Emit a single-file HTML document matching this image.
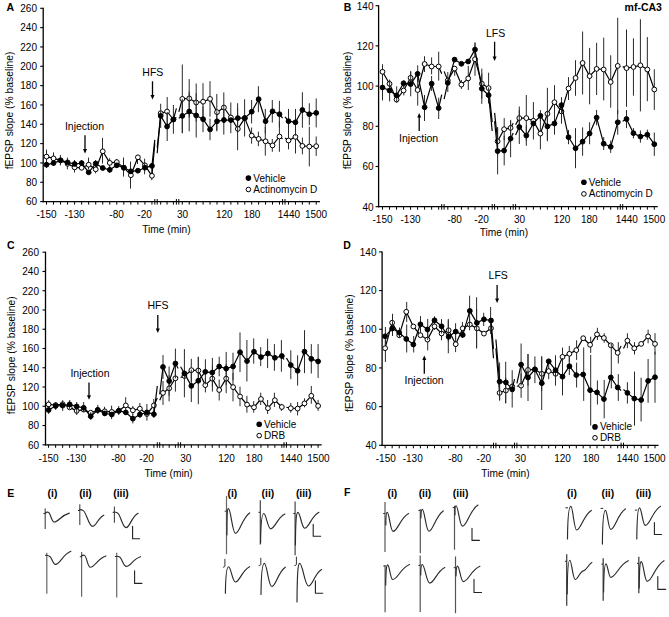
<!DOCTYPE html>
<html><head><meta charset="utf-8"><style>
html,body{margin:0;padding:0;background:#fff;overflow:hidden;}
svg{display:block;font-family:"Liberation Sans", sans-serif;}
text{fill:#000;}
</style></head><body>
<svg width="669" height="617" viewBox="0 0 669 617">
<rect width="669" height="617" fill="#fff"/>
<text x="6.5" y="10.6" font-size="10.5" text-anchor="start" font-weight="bold" >A</text>
<line x1="43.20" y1="7.80" x2="43.20" y2="202.20" stroke="#000" stroke-width="1.3"/>
<line x1="40.20" y1="201.60" x2="43.20" y2="201.60" stroke="#000" stroke-width="1.1"/>
<text x="37.0" y="205.4" font-size="10.0" text-anchor="end" font-weight="normal" >60</text>
<line x1="40.20" y1="182.27" x2="43.20" y2="182.27" stroke="#000" stroke-width="1.1"/>
<text x="37.0" y="186.1" font-size="10.0" text-anchor="end" font-weight="normal" >80</text>
<line x1="40.20" y1="162.94" x2="43.20" y2="162.94" stroke="#000" stroke-width="1.1"/>
<text x="37.0" y="166.7" font-size="10.0" text-anchor="end" font-weight="normal" >100</text>
<line x1="40.20" y1="143.61" x2="43.20" y2="143.61" stroke="#000" stroke-width="1.1"/>
<text x="37.0" y="147.4" font-size="10.0" text-anchor="end" font-weight="normal" >120</text>
<line x1="40.20" y1="124.28" x2="43.20" y2="124.28" stroke="#000" stroke-width="1.1"/>
<text x="37.0" y="128.1" font-size="10.0" text-anchor="end" font-weight="normal" >140</text>
<line x1="40.20" y1="104.95" x2="43.20" y2="104.95" stroke="#000" stroke-width="1.1"/>
<text x="37.0" y="108.7" font-size="10.0" text-anchor="end" font-weight="normal" >160</text>
<line x1="40.20" y1="85.62" x2="43.20" y2="85.62" stroke="#000" stroke-width="1.1"/>
<text x="37.0" y="89.4" font-size="10.0" text-anchor="end" font-weight="normal" >180</text>
<line x1="40.20" y1="66.29" x2="43.20" y2="66.29" stroke="#000" stroke-width="1.1"/>
<text x="37.0" y="70.1" font-size="10.0" text-anchor="end" font-weight="normal" >200</text>
<line x1="40.20" y1="46.96" x2="43.20" y2="46.96" stroke="#000" stroke-width="1.1"/>
<text x="37.0" y="50.8" font-size="10.0" text-anchor="end" font-weight="normal" >220</text>
<line x1="40.20" y1="27.63" x2="43.20" y2="27.63" stroke="#000" stroke-width="1.1"/>
<text x="37.0" y="31.4" font-size="10.0" text-anchor="end" font-weight="normal" >240</text>
<line x1="40.20" y1="8.30" x2="43.20" y2="8.30" stroke="#000" stroke-width="1.1"/>
<text x="37.0" y="12.1" font-size="10.0" text-anchor="end" font-weight="normal" >260</text>
<line x1="42.60" y1="201.60" x2="320.00" y2="201.60" stroke="#000" stroke-width="1.3"/>
<line x1="46.50" y1="201.60" x2="46.50" y2="204.60" stroke="#000" stroke-width="1.0"/>
<line x1="53.53" y1="201.60" x2="53.53" y2="204.60" stroke="#000" stroke-width="1.0"/>
<line x1="60.56" y1="201.60" x2="60.56" y2="204.60" stroke="#000" stroke-width="1.0"/>
<line x1="67.59" y1="201.60" x2="67.59" y2="204.60" stroke="#000" stroke-width="1.0"/>
<line x1="74.62" y1="201.60" x2="74.62" y2="204.60" stroke="#000" stroke-width="1.0"/>
<line x1="81.65" y1="201.60" x2="81.65" y2="204.60" stroke="#000" stroke-width="1.0"/>
<line x1="88.68" y1="201.60" x2="88.68" y2="204.60" stroke="#000" stroke-width="1.0"/>
<line x1="95.71" y1="201.60" x2="95.71" y2="204.60" stroke="#000" stroke-width="1.0"/>
<line x1="102.74" y1="201.60" x2="102.74" y2="204.60" stroke="#000" stroke-width="1.0"/>
<line x1="109.77" y1="201.60" x2="109.77" y2="204.60" stroke="#000" stroke-width="1.0"/>
<line x1="116.80" y1="201.60" x2="116.80" y2="204.60" stroke="#000" stroke-width="1.0"/>
<line x1="123.83" y1="201.60" x2="123.83" y2="204.60" stroke="#000" stroke-width="1.0"/>
<line x1="130.86" y1="201.60" x2="130.86" y2="204.60" stroke="#000" stroke-width="1.0"/>
<line x1="137.89" y1="201.60" x2="137.89" y2="204.60" stroke="#000" stroke-width="1.0"/>
<line x1="144.92" y1="201.60" x2="144.92" y2="204.60" stroke="#000" stroke-width="1.0"/>
<line x1="151.95" y1="201.60" x2="151.95" y2="204.60" stroke="#000" stroke-width="1.0"/>
<line x1="160.70" y1="201.60" x2="160.70" y2="204.60" stroke="#000" stroke-width="1.0"/>
<line x1="167.05" y1="201.60" x2="167.05" y2="204.60" stroke="#000" stroke-width="1.0"/>
<line x1="173.40" y1="201.60" x2="173.40" y2="204.60" stroke="#000" stroke-width="1.0"/>
<line x1="182.30" y1="201.60" x2="182.30" y2="204.60" stroke="#000" stroke-width="1.0"/>
<line x1="189.24" y1="201.60" x2="189.24" y2="204.60" stroke="#000" stroke-width="1.0"/>
<line x1="196.18" y1="201.60" x2="196.18" y2="204.60" stroke="#000" stroke-width="1.0"/>
<line x1="203.12" y1="201.60" x2="203.12" y2="204.60" stroke="#000" stroke-width="1.0"/>
<line x1="210.06" y1="201.60" x2="210.06" y2="204.60" stroke="#000" stroke-width="1.0"/>
<line x1="217.00" y1="201.60" x2="217.00" y2="204.60" stroke="#000" stroke-width="1.0"/>
<line x1="223.94" y1="201.60" x2="223.94" y2="204.60" stroke="#000" stroke-width="1.0"/>
<line x1="230.88" y1="201.60" x2="230.88" y2="204.60" stroke="#000" stroke-width="1.0"/>
<line x1="237.82" y1="201.60" x2="237.82" y2="204.60" stroke="#000" stroke-width="1.0"/>
<line x1="244.76" y1="201.60" x2="244.76" y2="204.60" stroke="#000" stroke-width="1.0"/>
<line x1="251.70" y1="201.60" x2="251.70" y2="204.60" stroke="#000" stroke-width="1.0"/>
<line x1="258.64" y1="201.60" x2="258.64" y2="204.60" stroke="#000" stroke-width="1.0"/>
<line x1="265.58" y1="201.60" x2="265.58" y2="204.60" stroke="#000" stroke-width="1.0"/>
<line x1="272.52" y1="201.60" x2="272.52" y2="204.60" stroke="#000" stroke-width="1.0"/>
<line x1="279.46" y1="201.60" x2="279.46" y2="204.60" stroke="#000" stroke-width="1.0"/>
<line x1="288.50" y1="201.60" x2="288.50" y2="204.60" stroke="#000" stroke-width="1.0"/>
<line x1="295.43" y1="201.60" x2="295.43" y2="204.60" stroke="#000" stroke-width="1.0"/>
<line x1="302.36" y1="201.60" x2="302.36" y2="204.60" stroke="#000" stroke-width="1.0"/>
<line x1="309.29" y1="201.60" x2="309.29" y2="204.60" stroke="#000" stroke-width="1.0"/>
<line x1="316.22" y1="201.60" x2="316.22" y2="204.60" stroke="#000" stroke-width="1.0"/>
<line x1="154.80" y1="199.00" x2="154.80" y2="204.60" stroke="#000" stroke-width="1.0"/>
<line x1="157.20" y1="199.00" x2="157.20" y2="204.60" stroke="#000" stroke-width="1.0"/>
<line x1="176.40" y1="199.00" x2="176.40" y2="204.60" stroke="#000" stroke-width="1.0"/>
<line x1="178.80" y1="199.00" x2="178.80" y2="204.60" stroke="#000" stroke-width="1.0"/>
<line x1="282.60" y1="199.00" x2="282.60" y2="204.60" stroke="#000" stroke-width="1.0"/>
<line x1="285.00" y1="199.00" x2="285.00" y2="204.60" stroke="#000" stroke-width="1.0"/>
<text x="46.5" y="218.2" font-size="10.0" text-anchor="middle" font-weight="normal" >-150</text>
<text x="74.6" y="218.2" font-size="10.0" text-anchor="middle" font-weight="normal" >-130</text>
<text x="116.6" y="218.2" font-size="10.0" text-anchor="middle" font-weight="normal" >-80</text>
<text x="144.6" y="218.2" font-size="10.0" text-anchor="middle" font-weight="normal" >-20</text>
<text x="182.5" y="218.2" font-size="10.0" text-anchor="middle" font-weight="normal" >30</text>
<text x="224.3" y="218.2" font-size="10.0" text-anchor="middle" font-weight="normal" >120</text>
<text x="252.0" y="218.2" font-size="10.0" text-anchor="middle" font-weight="normal" >180</text>
<text x="288.9" y="218.2" font-size="10.0" text-anchor="middle" font-weight="normal" >1440</text>
<text x="316.0" y="218.2" font-size="10.0" text-anchor="middle" font-weight="normal" >1500</text>
<text x="0" y="0" font-size="10.3" text-anchor="middle" transform="translate(13.1,110.5) rotate(-90)">fEPSP slope (% baseline)</text>
<line x1="46.50" y1="149.60" x2="46.50" y2="163.60" stroke="#2a2a2a" stroke-width="1.0"/>
<line x1="53.50" y1="152.40" x2="53.50" y2="166.00" stroke="#2a2a2a" stroke-width="1.0"/>
<line x1="67.40" y1="157.60" x2="67.40" y2="169.30" stroke="#2a2a2a" stroke-width="1.0"/>
<line x1="74.50" y1="160.00" x2="74.50" y2="172.50" stroke="#2a2a2a" stroke-width="1.0"/>
<line x1="88.50" y1="157.60" x2="88.50" y2="169.00" stroke="#2a2a2a" stroke-width="1.0"/>
<line x1="95.60" y1="165.20" x2="95.60" y2="173.40" stroke="#2a2a2a" stroke-width="1.0"/>
<line x1="102.50" y1="138.00" x2="102.50" y2="163.50" stroke="#2a2a2a" stroke-width="1.0"/>
<line x1="109.60" y1="158.20" x2="109.60" y2="167.60" stroke="#2a2a2a" stroke-width="1.0"/>
<line x1="116.50" y1="159.00" x2="116.50" y2="168.00" stroke="#2a2a2a" stroke-width="1.0"/>
<line x1="130.50" y1="161.70" x2="130.50" y2="188.60" stroke="#2a2a2a" stroke-width="1.0"/>
<line x1="137.50" y1="155.00" x2="137.50" y2="164.00" stroke="#2a2a2a" stroke-width="1.0"/>
<line x1="151.80" y1="163.50" x2="151.80" y2="180.20" stroke="#2a2a2a" stroke-width="1.0"/>
<line x1="167.20" y1="97.00" x2="167.20" y2="126.00" stroke="#2a2a2a" stroke-width="1.0"/>
<line x1="182.30" y1="64.50" x2="182.30" y2="133.30" stroke="#2a2a2a" stroke-width="1.0"/>
<line x1="189.20" y1="79.10" x2="189.20" y2="117.70" stroke="#2a2a2a" stroke-width="1.0"/>
<line x1="196.20" y1="83.50" x2="196.20" y2="121.50" stroke="#2a2a2a" stroke-width="1.0"/>
<line x1="203.00" y1="83.20" x2="203.00" y2="120.20" stroke="#2a2a2a" stroke-width="1.0"/>
<line x1="210.00" y1="81.10" x2="210.00" y2="116.70" stroke="#2a2a2a" stroke-width="1.0"/>
<line x1="216.80" y1="94.00" x2="216.80" y2="130.40" stroke="#2a2a2a" stroke-width="1.0"/>
<line x1="223.80" y1="92.40" x2="223.80" y2="122.60" stroke="#2a2a2a" stroke-width="1.0"/>
<line x1="230.80" y1="102.40" x2="230.80" y2="133.20" stroke="#2a2a2a" stroke-width="1.0"/>
<line x1="237.60" y1="107.60" x2="237.60" y2="150.20" stroke="#2a2a2a" stroke-width="1.0"/>
<line x1="251.60" y1="127.50" x2="251.60" y2="143.70" stroke="#2a2a2a" stroke-width="1.0"/>
<line x1="258.40" y1="131.60" x2="258.40" y2="146.20" stroke="#2a2a2a" stroke-width="1.0"/>
<line x1="265.30" y1="127.00" x2="265.30" y2="155.60" stroke="#2a2a2a" stroke-width="1.0"/>
<line x1="272.30" y1="139.00" x2="272.30" y2="151.80" stroke="#2a2a2a" stroke-width="1.0"/>
<line x1="279.40" y1="121.20" x2="279.40" y2="151.80" stroke="#2a2a2a" stroke-width="1.0"/>
<line x1="288.50" y1="131.60" x2="288.50" y2="149.40" stroke="#2a2a2a" stroke-width="1.0"/>
<line x1="295.50" y1="120.30" x2="295.50" y2="153.50" stroke="#2a2a2a" stroke-width="1.0"/>
<line x1="302.40" y1="137.50" x2="302.40" y2="154.30" stroke="#2a2a2a" stroke-width="1.0"/>
<line x1="309.30" y1="126.60" x2="309.30" y2="166.40" stroke="#2a2a2a" stroke-width="1.0"/>
<line x1="316.20" y1="136.50" x2="316.20" y2="155.90" stroke="#2a2a2a" stroke-width="1.0"/>
<path d="M46.50,156.60 L53.53,158.40 L60.56,160.40 L67.59,163.80 L74.62,167.40 L81.65,167.80 L88.68,164.70 L95.71,169.30 L102.74,151.30 L109.77,162.90 L116.80,162.10 L123.83,167.70 L130.86,175.20 L137.89,157.30 L144.92,165.30 L151.95,175.80 L154.80,143.18 M157.20,153.26 L160.70,113.20 L167.05,111.50 L173.40,119.50 L176.40,108.39 M178.80,111.86 L182.30,98.90 L189.24,98.40 L196.18,102.50 L203.12,101.70 L210.06,98.90 L217.00,112.20 L223.94,107.50 L230.88,117.50 L237.82,128.90 L244.76,118.10 L251.70,135.60 L258.64,138.90 L265.58,141.30 L272.52,145.40 L279.46,136.50 L282.60,138.72 M285.00,138.02 L288.50,140.50 L295.43,136.90 L302.36,145.90 L309.29,146.50 L316.22,146.20" fill="none" stroke="#000" stroke-width="1.2" stroke-linejoin="round"/>
<circle cx="46.50" cy="156.60" r="2.4" fill="#fff" stroke="#000" stroke-width="1"/>
<circle cx="53.53" cy="158.40" r="2.4" fill="#fff" stroke="#000" stroke-width="1"/>
<circle cx="60.56" cy="160.40" r="2.4" fill="#fff" stroke="#000" stroke-width="1"/>
<circle cx="67.59" cy="163.80" r="2.4" fill="#fff" stroke="#000" stroke-width="1"/>
<circle cx="74.62" cy="167.40" r="2.4" fill="#fff" stroke="#000" stroke-width="1"/>
<circle cx="81.65" cy="167.80" r="2.4" fill="#fff" stroke="#000" stroke-width="1"/>
<circle cx="88.68" cy="164.70" r="2.4" fill="#fff" stroke="#000" stroke-width="1"/>
<circle cx="95.71" cy="169.30" r="2.4" fill="#fff" stroke="#000" stroke-width="1"/>
<circle cx="102.74" cy="151.30" r="2.4" fill="#fff" stroke="#000" stroke-width="1"/>
<circle cx="109.77" cy="162.90" r="2.4" fill="#fff" stroke="#000" stroke-width="1"/>
<circle cx="116.80" cy="162.10" r="2.4" fill="#fff" stroke="#000" stroke-width="1"/>
<circle cx="123.83" cy="167.70" r="2.4" fill="#fff" stroke="#000" stroke-width="1"/>
<circle cx="130.86" cy="175.20" r="2.4" fill="#fff" stroke="#000" stroke-width="1"/>
<circle cx="137.89" cy="157.30" r="2.4" fill="#fff" stroke="#000" stroke-width="1"/>
<circle cx="144.92" cy="165.30" r="2.4" fill="#fff" stroke="#000" stroke-width="1"/>
<circle cx="151.95" cy="175.80" r="2.4" fill="#fff" stroke="#000" stroke-width="1"/>
<circle cx="160.70" cy="113.20" r="2.4" fill="#fff" stroke="#000" stroke-width="1"/>
<circle cx="167.05" cy="111.50" r="2.4" fill="#fff" stroke="#000" stroke-width="1"/>
<circle cx="173.40" cy="119.50" r="2.4" fill="#fff" stroke="#000" stroke-width="1"/>
<circle cx="182.30" cy="98.90" r="2.4" fill="#fff" stroke="#000" stroke-width="1"/>
<circle cx="189.24" cy="98.40" r="2.4" fill="#fff" stroke="#000" stroke-width="1"/>
<circle cx="196.18" cy="102.50" r="2.4" fill="#fff" stroke="#000" stroke-width="1"/>
<circle cx="203.12" cy="101.70" r="2.4" fill="#fff" stroke="#000" stroke-width="1"/>
<circle cx="210.06" cy="98.90" r="2.4" fill="#fff" stroke="#000" stroke-width="1"/>
<circle cx="217.00" cy="112.20" r="2.4" fill="#fff" stroke="#000" stroke-width="1"/>
<circle cx="223.94" cy="107.50" r="2.4" fill="#fff" stroke="#000" stroke-width="1"/>
<circle cx="230.88" cy="117.50" r="2.4" fill="#fff" stroke="#000" stroke-width="1"/>
<circle cx="237.82" cy="128.90" r="2.4" fill="#fff" stroke="#000" stroke-width="1"/>
<circle cx="244.76" cy="118.10" r="2.4" fill="#fff" stroke="#000" stroke-width="1"/>
<circle cx="251.70" cy="135.60" r="2.4" fill="#fff" stroke="#000" stroke-width="1"/>
<circle cx="258.64" cy="138.90" r="2.4" fill="#fff" stroke="#000" stroke-width="1"/>
<circle cx="265.58" cy="141.30" r="2.4" fill="#fff" stroke="#000" stroke-width="1"/>
<circle cx="272.52" cy="145.40" r="2.4" fill="#fff" stroke="#000" stroke-width="1"/>
<circle cx="279.46" cy="136.50" r="2.4" fill="#fff" stroke="#000" stroke-width="1"/>
<circle cx="288.50" cy="140.50" r="2.4" fill="#fff" stroke="#000" stroke-width="1"/>
<circle cx="295.43" cy="136.90" r="2.4" fill="#fff" stroke="#000" stroke-width="1"/>
<circle cx="302.36" cy="145.90" r="2.4" fill="#fff" stroke="#000" stroke-width="1"/>
<circle cx="309.29" cy="146.50" r="2.4" fill="#fff" stroke="#000" stroke-width="1"/>
<circle cx="316.22" cy="146.20" r="2.4" fill="#fff" stroke="#000" stroke-width="1"/>
<line x1="46.50" y1="161.40" x2="46.50" y2="168.00" stroke="#2a2a2a" stroke-width="1.0"/>
<line x1="60.40" y1="155.00" x2="60.40" y2="165.40" stroke="#2a2a2a" stroke-width="1.0"/>
<line x1="81.50" y1="160.00" x2="81.50" y2="166.00" stroke="#2a2a2a" stroke-width="1.0"/>
<line x1="95.60" y1="160.00" x2="95.60" y2="167.00" stroke="#2a2a2a" stroke-width="1.0"/>
<line x1="109.60" y1="166.80" x2="109.60" y2="172.80" stroke="#2a2a2a" stroke-width="1.0"/>
<line x1="123.50" y1="157.50" x2="123.50" y2="176.60" stroke="#2a2a2a" stroke-width="1.0"/>
<line x1="144.60" y1="158.70" x2="144.60" y2="174.30" stroke="#2a2a2a" stroke-width="1.0"/>
<line x1="160.70" y1="103.80" x2="160.70" y2="128.00" stroke="#2a2a2a" stroke-width="1.0"/>
<line x1="167.20" y1="112.00" x2="167.20" y2="141.00" stroke="#2a2a2a" stroke-width="1.0"/>
<line x1="173.40" y1="105.00" x2="173.40" y2="133.70" stroke="#2a2a2a" stroke-width="1.0"/>
<line x1="182.30" y1="98.80" x2="182.30" y2="133.00" stroke="#2a2a2a" stroke-width="1.0"/>
<line x1="189.20" y1="91.70" x2="189.20" y2="131.30" stroke="#2a2a2a" stroke-width="1.0"/>
<line x1="196.20" y1="93.30" x2="196.20" y2="137.50" stroke="#2a2a2a" stroke-width="1.0"/>
<line x1="203.00" y1="106.30" x2="203.00" y2="132.10" stroke="#2a2a2a" stroke-width="1.0"/>
<line x1="210.00" y1="118.60" x2="210.00" y2="140.20" stroke="#2a2a2a" stroke-width="1.0"/>
<line x1="216.80" y1="111.30" x2="216.80" y2="131.30" stroke="#2a2a2a" stroke-width="1.0"/>
<line x1="223.80" y1="105.40" x2="223.80" y2="134.60" stroke="#2a2a2a" stroke-width="1.0"/>
<line x1="237.60" y1="103.20" x2="237.60" y2="133.00" stroke="#2a2a2a" stroke-width="1.0"/>
<line x1="244.60" y1="99.20" x2="244.60" y2="136.50" stroke="#2a2a2a" stroke-width="1.0"/>
<line x1="251.60" y1="100.00" x2="251.60" y2="123.40" stroke="#2a2a2a" stroke-width="1.0"/>
<line x1="258.40" y1="86.20" x2="258.40" y2="112.20" stroke="#2a2a2a" stroke-width="1.0"/>
<line x1="265.30" y1="108.90" x2="265.30" y2="133.50" stroke="#2a2a2a" stroke-width="1.0"/>
<line x1="272.30" y1="100.00" x2="272.30" y2="122.60" stroke="#2a2a2a" stroke-width="1.0"/>
<line x1="279.40" y1="100.80" x2="279.40" y2="127.60" stroke="#2a2a2a" stroke-width="1.0"/>
<line x1="288.50" y1="108.90" x2="288.50" y2="133.50" stroke="#2a2a2a" stroke-width="1.0"/>
<line x1="295.50" y1="108.90" x2="295.50" y2="135.70" stroke="#2a2a2a" stroke-width="1.0"/>
<line x1="302.40" y1="92.20" x2="302.40" y2="127.80" stroke="#2a2a2a" stroke-width="1.0"/>
<line x1="309.30" y1="103.20" x2="309.30" y2="125.20" stroke="#2a2a2a" stroke-width="1.0"/>
<line x1="316.20" y1="98.40" x2="316.20" y2="127.40" stroke="#2a2a2a" stroke-width="1.0"/>
<path d="M46.50,164.70 L53.53,163.10 L60.56,160.40 L67.59,162.40 L74.62,164.00 L81.65,163.10 L88.68,172.30 L95.71,163.50 L102.74,168.00 L109.77,169.80 L116.80,165.30 L123.83,167.70 L130.86,171.30 L137.89,170.70 L144.92,167.70 L151.95,165.90 L154.80,139.84 M157.20,147.90 L160.70,115.90 L167.05,126.50 L173.40,119.50 L176.40,117.56 M178.80,118.17 L182.30,115.90 L189.24,111.50 L196.18,115.40 L203.12,119.20 L210.06,129.40 L217.00,121.30 L223.94,120.00 L230.88,120.10 L237.82,118.10 L244.76,118.10 L251.70,111.70 L258.64,99.20 L265.58,121.20 L272.52,111.30 L279.46,114.20 L282.60,118.09 M285.00,116.86 L288.50,121.20 L295.43,122.30 L302.36,110.00 L309.29,114.20 L316.22,112.90" fill="none" stroke="#000" stroke-width="1.2" stroke-linejoin="round"/>
<circle cx="46.50" cy="164.70" r="2.4" fill="#000" stroke="#000" stroke-width="1"/>
<circle cx="53.53" cy="163.10" r="2.4" fill="#000" stroke="#000" stroke-width="1"/>
<circle cx="60.56" cy="160.40" r="2.4" fill="#000" stroke="#000" stroke-width="1"/>
<circle cx="67.59" cy="162.40" r="2.4" fill="#000" stroke="#000" stroke-width="1"/>
<circle cx="74.62" cy="164.00" r="2.4" fill="#000" stroke="#000" stroke-width="1"/>
<circle cx="81.65" cy="163.10" r="2.4" fill="#000" stroke="#000" stroke-width="1"/>
<circle cx="88.68" cy="172.30" r="2.4" fill="#000" stroke="#000" stroke-width="1"/>
<circle cx="95.71" cy="163.50" r="2.4" fill="#000" stroke="#000" stroke-width="1"/>
<circle cx="102.74" cy="168.00" r="2.4" fill="#000" stroke="#000" stroke-width="1"/>
<circle cx="109.77" cy="169.80" r="2.4" fill="#000" stroke="#000" stroke-width="1"/>
<circle cx="116.80" cy="165.30" r="2.4" fill="#000" stroke="#000" stroke-width="1"/>
<circle cx="123.83" cy="167.70" r="2.4" fill="#000" stroke="#000" stroke-width="1"/>
<circle cx="130.86" cy="171.30" r="2.4" fill="#000" stroke="#000" stroke-width="1"/>
<circle cx="137.89" cy="170.70" r="2.4" fill="#000" stroke="#000" stroke-width="1"/>
<circle cx="144.92" cy="167.70" r="2.4" fill="#000" stroke="#000" stroke-width="1"/>
<circle cx="151.95" cy="165.90" r="2.4" fill="#000" stroke="#000" stroke-width="1"/>
<circle cx="160.70" cy="115.90" r="2.4" fill="#000" stroke="#000" stroke-width="1"/>
<circle cx="167.05" cy="126.50" r="2.4" fill="#000" stroke="#000" stroke-width="1"/>
<circle cx="173.40" cy="119.50" r="2.4" fill="#000" stroke="#000" stroke-width="1"/>
<circle cx="182.30" cy="115.90" r="2.4" fill="#000" stroke="#000" stroke-width="1"/>
<circle cx="189.24" cy="111.50" r="2.4" fill="#000" stroke="#000" stroke-width="1"/>
<circle cx="196.18" cy="115.40" r="2.4" fill="#000" stroke="#000" stroke-width="1"/>
<circle cx="203.12" cy="119.20" r="2.4" fill="#000" stroke="#000" stroke-width="1"/>
<circle cx="210.06" cy="129.40" r="2.4" fill="#000" stroke="#000" stroke-width="1"/>
<circle cx="217.00" cy="121.30" r="2.4" fill="#000" stroke="#000" stroke-width="1"/>
<circle cx="223.94" cy="120.00" r="2.4" fill="#000" stroke="#000" stroke-width="1"/>
<circle cx="230.88" cy="120.10" r="2.4" fill="#000" stroke="#000" stroke-width="1"/>
<circle cx="237.82" cy="118.10" r="2.4" fill="#000" stroke="#000" stroke-width="1"/>
<circle cx="244.76" cy="118.10" r="2.4" fill="#000" stroke="#000" stroke-width="1"/>
<circle cx="251.70" cy="111.70" r="2.4" fill="#000" stroke="#000" stroke-width="1"/>
<circle cx="258.64" cy="99.20" r="2.4" fill="#000" stroke="#000" stroke-width="1"/>
<circle cx="265.58" cy="121.20" r="2.4" fill="#000" stroke="#000" stroke-width="1"/>
<circle cx="272.52" cy="111.30" r="2.4" fill="#000" stroke="#000" stroke-width="1"/>
<circle cx="279.46" cy="114.20" r="2.4" fill="#000" stroke="#000" stroke-width="1"/>
<circle cx="288.50" cy="121.20" r="2.4" fill="#000" stroke="#000" stroke-width="1"/>
<circle cx="295.43" cy="122.30" r="2.4" fill="#000" stroke="#000" stroke-width="1"/>
<circle cx="302.36" cy="110.00" r="2.4" fill="#000" stroke="#000" stroke-width="1"/>
<circle cx="309.29" cy="114.20" r="2.4" fill="#000" stroke="#000" stroke-width="1"/>
<circle cx="316.22" cy="112.90" r="2.4" fill="#000" stroke="#000" stroke-width="1"/>
<text x="142.3" y="76.3" font-size="10.5" text-anchor="start" font-weight="normal" >HFS</text>
<line x1="152.50" y1="81.30" x2="152.50" y2="95.50" stroke="#000" stroke-width="1.3"/>
<path d="M150.50,95.00 L154.50,95.00 L152.50,99.50 Z" fill="#000"/>
<text x="64.9" y="129.7" font-size="10.5" text-anchor="start" font-weight="normal" >Injection</text>
<line x1="85.00" y1="135.30" x2="85.00" y2="149.50" stroke="#000" stroke-width="1.3"/>
<path d="M83.00,149.00 L87.00,149.00 L85.00,153.50 Z" fill="#000"/>
<circle cx="248.4" cy="178.1" r="2.8" fill="#000"/>
<text x="253.3" y="181.6" font-size="10.0" text-anchor="start" font-weight="normal" >Vehicle</text>
<circle cx="248.4" cy="189.5" r="2.3" fill="#fff" stroke="#000" stroke-width="1"/>
<text x="253.3" y="193.0" font-size="10.0" text-anchor="start" font-weight="normal" >Actinomycin D</text>
<text x="166.4" y="232.6" font-size="10.2" text-anchor="middle" font-weight="normal" >Time (min)</text>
<text x="343.8" y="10.6" font-size="10.5" text-anchor="start" font-weight="bold" >B</text>
<line x1="378.60" y1="5.20" x2="378.60" y2="207.30" stroke="#000" stroke-width="1.3"/>
<line x1="375.60" y1="206.70" x2="378.60" y2="206.70" stroke="#000" stroke-width="1.1"/>
<text x="373.5" y="210.5" font-size="10.0" text-anchor="end" font-weight="normal" >40</text>
<line x1="375.60" y1="166.50" x2="378.60" y2="166.50" stroke="#000" stroke-width="1.1"/>
<text x="373.5" y="170.3" font-size="10.0" text-anchor="end" font-weight="normal" >60</text>
<line x1="375.60" y1="126.30" x2="378.60" y2="126.30" stroke="#000" stroke-width="1.1"/>
<text x="373.5" y="130.1" font-size="10.0" text-anchor="end" font-weight="normal" >80</text>
<line x1="375.60" y1="86.10" x2="378.60" y2="86.10" stroke="#000" stroke-width="1.1"/>
<text x="373.5" y="89.9" font-size="10.0" text-anchor="end" font-weight="normal" >100</text>
<line x1="375.60" y1="45.90" x2="378.60" y2="45.90" stroke="#000" stroke-width="1.1"/>
<text x="373.5" y="49.7" font-size="10.0" text-anchor="end" font-weight="normal" >120</text>
<line x1="375.60" y1="5.70" x2="378.60" y2="5.70" stroke="#000" stroke-width="1.1"/>
<text x="373.5" y="9.5" font-size="10.0" text-anchor="end" font-weight="normal" >140</text>
<line x1="378.00" y1="206.70" x2="657.70" y2="206.70" stroke="#000" stroke-width="1.3"/>
<line x1="382.50" y1="206.70" x2="382.50" y2="209.70" stroke="#000" stroke-width="1.0"/>
<line x1="389.52" y1="206.70" x2="389.52" y2="209.70" stroke="#000" stroke-width="1.0"/>
<line x1="396.54" y1="206.70" x2="396.54" y2="209.70" stroke="#000" stroke-width="1.0"/>
<line x1="403.56" y1="206.70" x2="403.56" y2="209.70" stroke="#000" stroke-width="1.0"/>
<line x1="410.58" y1="206.70" x2="410.58" y2="209.70" stroke="#000" stroke-width="1.0"/>
<line x1="417.60" y1="206.70" x2="417.60" y2="209.70" stroke="#000" stroke-width="1.0"/>
<line x1="424.62" y1="206.70" x2="424.62" y2="209.70" stroke="#000" stroke-width="1.0"/>
<line x1="431.64" y1="206.70" x2="431.64" y2="209.70" stroke="#000" stroke-width="1.0"/>
<line x1="438.66" y1="206.70" x2="438.66" y2="209.70" stroke="#000" stroke-width="1.0"/>
<line x1="447.80" y1="206.70" x2="447.80" y2="209.70" stroke="#000" stroke-width="1.0"/>
<line x1="454.60" y1="206.70" x2="454.60" y2="209.70" stroke="#000" stroke-width="1.0"/>
<line x1="461.40" y1="206.70" x2="461.40" y2="209.70" stroke="#000" stroke-width="1.0"/>
<line x1="468.20" y1="206.70" x2="468.20" y2="209.70" stroke="#000" stroke-width="1.0"/>
<line x1="475.00" y1="206.70" x2="475.00" y2="209.70" stroke="#000" stroke-width="1.0"/>
<line x1="481.80" y1="206.70" x2="481.80" y2="209.70" stroke="#000" stroke-width="1.0"/>
<line x1="488.60" y1="206.70" x2="488.60" y2="209.70" stroke="#000" stroke-width="1.0"/>
<line x1="497.60" y1="206.70" x2="497.60" y2="209.70" stroke="#000" stroke-width="1.0"/>
<line x1="504.10" y1="206.70" x2="504.10" y2="209.70" stroke="#000" stroke-width="1.0"/>
<line x1="510.60" y1="206.70" x2="510.60" y2="209.70" stroke="#000" stroke-width="1.0"/>
<line x1="519.30" y1="206.70" x2="519.30" y2="209.70" stroke="#000" stroke-width="1.0"/>
<line x1="526.33" y1="206.70" x2="526.33" y2="209.70" stroke="#000" stroke-width="1.0"/>
<line x1="533.36" y1="206.70" x2="533.36" y2="209.70" stroke="#000" stroke-width="1.0"/>
<line x1="540.39" y1="206.70" x2="540.39" y2="209.70" stroke="#000" stroke-width="1.0"/>
<line x1="547.42" y1="206.70" x2="547.42" y2="209.70" stroke="#000" stroke-width="1.0"/>
<line x1="554.45" y1="206.70" x2="554.45" y2="209.70" stroke="#000" stroke-width="1.0"/>
<line x1="561.48" y1="206.70" x2="561.48" y2="209.70" stroke="#000" stroke-width="1.0"/>
<line x1="568.51" y1="206.70" x2="568.51" y2="209.70" stroke="#000" stroke-width="1.0"/>
<line x1="575.54" y1="206.70" x2="575.54" y2="209.70" stroke="#000" stroke-width="1.0"/>
<line x1="582.57" y1="206.70" x2="582.57" y2="209.70" stroke="#000" stroke-width="1.0"/>
<line x1="589.60" y1="206.70" x2="589.60" y2="209.70" stroke="#000" stroke-width="1.0"/>
<line x1="596.63" y1="206.70" x2="596.63" y2="209.70" stroke="#000" stroke-width="1.0"/>
<line x1="603.66" y1="206.70" x2="603.66" y2="209.70" stroke="#000" stroke-width="1.0"/>
<line x1="610.69" y1="206.70" x2="610.69" y2="209.70" stroke="#000" stroke-width="1.0"/>
<line x1="617.72" y1="206.70" x2="617.72" y2="209.70" stroke="#000" stroke-width="1.0"/>
<line x1="626.50" y1="206.70" x2="626.50" y2="209.70" stroke="#000" stroke-width="1.0"/>
<line x1="633.45" y1="206.70" x2="633.45" y2="209.70" stroke="#000" stroke-width="1.0"/>
<line x1="640.40" y1="206.70" x2="640.40" y2="209.70" stroke="#000" stroke-width="1.0"/>
<line x1="647.35" y1="206.70" x2="647.35" y2="209.70" stroke="#000" stroke-width="1.0"/>
<line x1="654.30" y1="206.70" x2="654.30" y2="209.70" stroke="#000" stroke-width="1.0"/>
<line x1="441.70" y1="204.10" x2="441.70" y2="209.70" stroke="#000" stroke-width="1.0"/>
<line x1="444.10" y1="204.10" x2="444.10" y2="209.70" stroke="#000" stroke-width="1.0"/>
<line x1="492.20" y1="204.10" x2="492.20" y2="209.70" stroke="#000" stroke-width="1.0"/>
<line x1="494.60" y1="204.10" x2="494.60" y2="209.70" stroke="#000" stroke-width="1.0"/>
<line x1="513.20" y1="204.10" x2="513.20" y2="209.70" stroke="#000" stroke-width="1.0"/>
<line x1="515.60" y1="204.10" x2="515.60" y2="209.70" stroke="#000" stroke-width="1.0"/>
<line x1="620.30" y1="204.10" x2="620.30" y2="209.70" stroke="#000" stroke-width="1.0"/>
<line x1="622.70" y1="204.10" x2="622.70" y2="209.70" stroke="#000" stroke-width="1.0"/>
<text x="382.5" y="222.9" font-size="10.0" text-anchor="middle" font-weight="normal" >-150</text>
<text x="410.5" y="222.9" font-size="10.0" text-anchor="middle" font-weight="normal" >-130</text>
<text x="454.7" y="222.9" font-size="10.0" text-anchor="middle" font-weight="normal" >-80</text>
<text x="481.6" y="222.9" font-size="10.0" text-anchor="middle" font-weight="normal" >-20</text>
<text x="519.6" y="222.9" font-size="10.0" text-anchor="middle" font-weight="normal" >30</text>
<text x="562.0" y="222.9" font-size="10.0" text-anchor="middle" font-weight="normal" >120</text>
<text x="589.3" y="222.9" font-size="10.0" text-anchor="middle" font-weight="normal" >180</text>
<text x="626.8" y="222.9" font-size="10.0" text-anchor="middle" font-weight="normal" >1440</text>
<text x="654.1" y="222.9" font-size="10.0" text-anchor="middle" font-weight="normal" >1500</text>
<text x="0" y="0" font-size="10.3" text-anchor="middle" transform="translate(351.0,110.5) rotate(-90)">fEPSP slope (% baseline)</text>
<line x1="382.50" y1="64.20" x2="382.50" y2="79.40" stroke="#2a2a2a" stroke-width="1.0"/>
<line x1="389.60" y1="80.10" x2="389.60" y2="87.50" stroke="#2a2a2a" stroke-width="1.0"/>
<line x1="403.80" y1="85.60" x2="403.80" y2="95.40" stroke="#2a2a2a" stroke-width="1.0"/>
<line x1="410.70" y1="71.00" x2="410.70" y2="84.60" stroke="#2a2a2a" stroke-width="1.0"/>
<line x1="417.70" y1="74.40" x2="417.70" y2="105.60" stroke="#2a2a2a" stroke-width="1.0"/>
<line x1="424.50" y1="56.20" x2="424.50" y2="72.00" stroke="#2a2a2a" stroke-width="1.0"/>
<line x1="431.60" y1="57.40" x2="431.60" y2="74.40" stroke="#2a2a2a" stroke-width="1.0"/>
<line x1="438.70" y1="51.70" x2="438.70" y2="80.60" stroke="#2a2a2a" stroke-width="1.0"/>
<line x1="454.70" y1="66.70" x2="454.70" y2="75.80" stroke="#2a2a2a" stroke-width="1.0"/>
<line x1="461.40" y1="80.00" x2="461.40" y2="89.00" stroke="#2a2a2a" stroke-width="1.0"/>
<line x1="468.30" y1="66.00" x2="468.30" y2="90.00" stroke="#2a2a2a" stroke-width="1.0"/>
<line x1="475.00" y1="42.60" x2="475.00" y2="75.80" stroke="#2a2a2a" stroke-width="1.0"/>
<line x1="481.80" y1="68.60" x2="481.80" y2="98.60" stroke="#2a2a2a" stroke-width="1.0"/>
<line x1="488.60" y1="72.70" x2="488.60" y2="103.50" stroke="#2a2a2a" stroke-width="1.0"/>
<line x1="497.60" y1="127.00" x2="497.60" y2="155.60" stroke="#2a2a2a" stroke-width="1.0"/>
<line x1="504.20" y1="118.10" x2="504.20" y2="140.30" stroke="#2a2a2a" stroke-width="1.0"/>
<line x1="510.60" y1="120.80" x2="510.60" y2="135.00" stroke="#2a2a2a" stroke-width="1.0"/>
<line x1="519.30" y1="106.50" x2="519.30" y2="129.70" stroke="#2a2a2a" stroke-width="1.0"/>
<line x1="526.30" y1="95.00" x2="526.30" y2="141.20" stroke="#2a2a2a" stroke-width="1.0"/>
<line x1="533.40" y1="102.10" x2="533.40" y2="139.50" stroke="#2a2a2a" stroke-width="1.0"/>
<line x1="540.40" y1="117.90" x2="540.40" y2="149.30" stroke="#2a2a2a" stroke-width="1.0"/>
<line x1="547.40" y1="87.80" x2="547.40" y2="139.80" stroke="#2a2a2a" stroke-width="1.0"/>
<line x1="554.50" y1="85.20" x2="554.50" y2="119.20" stroke="#2a2a2a" stroke-width="1.0"/>
<line x1="561.50" y1="99.10" x2="561.50" y2="123.70" stroke="#2a2a2a" stroke-width="1.0"/>
<line x1="568.50" y1="77.20" x2="568.50" y2="100.00" stroke="#2a2a2a" stroke-width="1.0"/>
<line x1="575.50" y1="60.20" x2="575.50" y2="95.80" stroke="#2a2a2a" stroke-width="1.0"/>
<line x1="582.60" y1="31.50" x2="582.60" y2="94.50" stroke="#2a2a2a" stroke-width="1.0"/>
<line x1="589.60" y1="47.90" x2="589.60" y2="104.30" stroke="#2a2a2a" stroke-width="1.0"/>
<line x1="596.60" y1="42.80" x2="596.60" y2="95.00" stroke="#2a2a2a" stroke-width="1.0"/>
<line x1="603.70" y1="37.70" x2="603.70" y2="100.40" stroke="#2a2a2a" stroke-width="1.0"/>
<line x1="610.70" y1="55.30" x2="610.70" y2="107.70" stroke="#2a2a2a" stroke-width="1.0"/>
<line x1="617.70" y1="17.80" x2="617.70" y2="114.00" stroke="#2a2a2a" stroke-width="1.0"/>
<line x1="626.50" y1="29.50" x2="626.50" y2="106.70" stroke="#2a2a2a" stroke-width="1.0"/>
<line x1="633.45" y1="38.30" x2="633.45" y2="95.70" stroke="#2a2a2a" stroke-width="1.0"/>
<line x1="640.40" y1="19.20" x2="640.40" y2="111.40" stroke="#2a2a2a" stroke-width="1.0"/>
<line x1="647.35" y1="37.10" x2="647.35" y2="101.20" stroke="#2a2a2a" stroke-width="1.0"/>
<line x1="654.30" y1="69.30" x2="654.30" y2="109.90" stroke="#2a2a2a" stroke-width="1.0"/>
<path d="M382.50,71.80 L389.52,83.80 L396.54,99.60 L403.56,90.50 L410.58,77.80 L417.60,90.00 L424.62,64.00 L431.64,66.50 L438.66,66.50 L441.70,73.84 M444.10,71.36 L447.80,80.30 L454.60,68.60 L461.40,84.60 L468.20,78.40 L475.00,59.20 L481.80,83.60 L488.60,88.10 L492.20,122.15 M494.60,112.93 L497.60,141.30 L504.10,129.20 L510.60,127.90 L513.20,123.21 M515.60,124.77 L519.30,118.10 L526.33,118.10 L533.36,120.80 L540.39,133.60 L547.42,113.80 L554.45,102.20 L561.48,111.40 L568.51,88.50 L575.54,78.00 L582.57,63.00 L589.60,76.10 L596.63,68.90 L603.66,69.50 L610.69,82.00 L617.72,65.90 L620.30,66.93 M622.70,66.58 L626.50,68.10 L633.45,67.00 L640.40,65.30 L647.35,69.50 L654.30,89.50" fill="none" stroke="#000" stroke-width="1.2" stroke-linejoin="round"/>
<circle cx="382.50" cy="71.80" r="2.4" fill="#fff" stroke="#000" stroke-width="1"/>
<circle cx="389.52" cy="83.80" r="2.4" fill="#fff" stroke="#000" stroke-width="1"/>
<circle cx="396.54" cy="99.60" r="2.4" fill="#fff" stroke="#000" stroke-width="1"/>
<circle cx="403.56" cy="90.50" r="2.4" fill="#fff" stroke="#000" stroke-width="1"/>
<circle cx="410.58" cy="77.80" r="2.4" fill="#fff" stroke="#000" stroke-width="1"/>
<circle cx="417.60" cy="90.00" r="2.4" fill="#fff" stroke="#000" stroke-width="1"/>
<circle cx="424.62" cy="64.00" r="2.4" fill="#fff" stroke="#000" stroke-width="1"/>
<circle cx="431.64" cy="66.50" r="2.4" fill="#fff" stroke="#000" stroke-width="1"/>
<circle cx="438.66" cy="66.50" r="2.4" fill="#fff" stroke="#000" stroke-width="1"/>
<circle cx="447.80" cy="80.30" r="2.4" fill="#fff" stroke="#000" stroke-width="1"/>
<circle cx="454.60" cy="68.60" r="2.4" fill="#fff" stroke="#000" stroke-width="1"/>
<circle cx="461.40" cy="84.60" r="2.4" fill="#fff" stroke="#000" stroke-width="1"/>
<circle cx="468.20" cy="78.40" r="2.4" fill="#fff" stroke="#000" stroke-width="1"/>
<circle cx="475.00" cy="59.20" r="2.4" fill="#fff" stroke="#000" stroke-width="1"/>
<circle cx="481.80" cy="83.60" r="2.4" fill="#fff" stroke="#000" stroke-width="1"/>
<circle cx="488.60" cy="88.10" r="2.4" fill="#fff" stroke="#000" stroke-width="1"/>
<circle cx="497.60" cy="141.30" r="2.4" fill="#fff" stroke="#000" stroke-width="1"/>
<circle cx="504.10" cy="129.20" r="2.4" fill="#fff" stroke="#000" stroke-width="1"/>
<circle cx="510.60" cy="127.90" r="2.4" fill="#fff" stroke="#000" stroke-width="1"/>
<circle cx="519.30" cy="118.10" r="2.4" fill="#fff" stroke="#000" stroke-width="1"/>
<circle cx="526.33" cy="118.10" r="2.4" fill="#fff" stroke="#000" stroke-width="1"/>
<circle cx="533.36" cy="120.80" r="2.4" fill="#fff" stroke="#000" stroke-width="1"/>
<circle cx="540.39" cy="133.60" r="2.4" fill="#fff" stroke="#000" stroke-width="1"/>
<circle cx="547.42" cy="113.80" r="2.4" fill="#fff" stroke="#000" stroke-width="1"/>
<circle cx="554.45" cy="102.20" r="2.4" fill="#fff" stroke="#000" stroke-width="1"/>
<circle cx="561.48" cy="111.40" r="2.4" fill="#fff" stroke="#000" stroke-width="1"/>
<circle cx="568.51" cy="88.50" r="2.4" fill="#fff" stroke="#000" stroke-width="1"/>
<circle cx="575.54" cy="78.00" r="2.4" fill="#fff" stroke="#000" stroke-width="1"/>
<circle cx="582.57" cy="63.00" r="2.4" fill="#fff" stroke="#000" stroke-width="1"/>
<circle cx="589.60" cy="76.10" r="2.4" fill="#fff" stroke="#000" stroke-width="1"/>
<circle cx="596.63" cy="68.90" r="2.4" fill="#fff" stroke="#000" stroke-width="1"/>
<circle cx="603.66" cy="69.50" r="2.4" fill="#fff" stroke="#000" stroke-width="1"/>
<circle cx="610.69" cy="82.00" r="2.4" fill="#fff" stroke="#000" stroke-width="1"/>
<circle cx="617.72" cy="65.90" r="2.4" fill="#fff" stroke="#000" stroke-width="1"/>
<circle cx="626.50" cy="68.10" r="2.4" fill="#fff" stroke="#000" stroke-width="1"/>
<circle cx="633.45" cy="67.00" r="2.4" fill="#fff" stroke="#000" stroke-width="1"/>
<circle cx="640.40" cy="65.30" r="2.4" fill="#fff" stroke="#000" stroke-width="1"/>
<circle cx="647.35" cy="69.50" r="2.4" fill="#fff" stroke="#000" stroke-width="1"/>
<circle cx="654.30" cy="89.50" r="2.4" fill="#fff" stroke="#000" stroke-width="1"/>
<line x1="382.50" y1="74.50" x2="382.50" y2="100.50" stroke="#2a2a2a" stroke-width="1.0"/>
<line x1="389.60" y1="79.60" x2="389.60" y2="101.40" stroke="#2a2a2a" stroke-width="1.0"/>
<line x1="396.70" y1="86.30" x2="396.70" y2="103.00" stroke="#2a2a2a" stroke-width="1.0"/>
<line x1="403.80" y1="80.10" x2="403.80" y2="86.50" stroke="#2a2a2a" stroke-width="1.0"/>
<line x1="410.70" y1="71.90" x2="410.70" y2="96.30" stroke="#2a2a2a" stroke-width="1.0"/>
<line x1="417.70" y1="65.30" x2="417.70" y2="82.30" stroke="#2a2a2a" stroke-width="1.0"/>
<line x1="424.50" y1="95.00" x2="424.50" y2="121.00" stroke="#2a2a2a" stroke-width="1.0"/>
<line x1="431.60" y1="76.00" x2="431.60" y2="91.00" stroke="#2a2a2a" stroke-width="1.0"/>
<line x1="438.70" y1="97.70" x2="438.70" y2="119.00" stroke="#2a2a2a" stroke-width="1.0"/>
<line x1="447.80" y1="72.00" x2="447.80" y2="92.00" stroke="#2a2a2a" stroke-width="1.0"/>
<line x1="475.00" y1="42.70" x2="475.00" y2="56.50" stroke="#2a2a2a" stroke-width="1.0"/>
<line x1="481.80" y1="73.50" x2="481.80" y2="103.90" stroke="#2a2a2a" stroke-width="1.0"/>
<line x1="488.60" y1="87.40" x2="488.60" y2="103.00" stroke="#2a2a2a" stroke-width="1.0"/>
<line x1="497.60" y1="127.90" x2="497.60" y2="174.30" stroke="#2a2a2a" stroke-width="1.0"/>
<line x1="504.20" y1="135.80" x2="504.20" y2="165.40" stroke="#2a2a2a" stroke-width="1.0"/>
<line x1="510.60" y1="119.90" x2="510.60" y2="157.30" stroke="#2a2a2a" stroke-width="1.0"/>
<line x1="519.30" y1="110.00" x2="519.30" y2="144.00" stroke="#2a2a2a" stroke-width="1.0"/>
<line x1="526.30" y1="125.40" x2="526.30" y2="145.80" stroke="#2a2a2a" stroke-width="1.0"/>
<line x1="540.40" y1="110.10" x2="540.40" y2="121.50" stroke="#2a2a2a" stroke-width="1.0"/>
<line x1="547.40" y1="111.50" x2="547.40" y2="141.30" stroke="#2a2a2a" stroke-width="1.0"/>
<line x1="554.50" y1="112.30" x2="554.50" y2="134.70" stroke="#2a2a2a" stroke-width="1.0"/>
<line x1="561.50" y1="97.20" x2="561.50" y2="113.00" stroke="#2a2a2a" stroke-width="1.0"/>
<line x1="568.50" y1="130.00" x2="568.50" y2="144.20" stroke="#2a2a2a" stroke-width="1.0"/>
<line x1="575.50" y1="128.10" x2="575.50" y2="168.20" stroke="#2a2a2a" stroke-width="1.0"/>
<line x1="582.60" y1="127.40" x2="582.60" y2="155.80" stroke="#2a2a2a" stroke-width="1.0"/>
<line x1="589.60" y1="122.30" x2="589.60" y2="144.20" stroke="#2a2a2a" stroke-width="1.0"/>
<line x1="596.60" y1="109.90" x2="596.60" y2="125.30" stroke="#2a2a2a" stroke-width="1.0"/>
<line x1="603.70" y1="137.00" x2="603.70" y2="150.00" stroke="#2a2a2a" stroke-width="1.0"/>
<line x1="610.70" y1="140.50" x2="610.70" y2="152.90" stroke="#2a2a2a" stroke-width="1.0"/>
<line x1="617.70" y1="110.00" x2="617.70" y2="134.70" stroke="#2a2a2a" stroke-width="1.0"/>
<line x1="626.50" y1="110.00" x2="626.50" y2="128.10" stroke="#2a2a2a" stroke-width="1.0"/>
<line x1="633.45" y1="128.00" x2="633.45" y2="138.40" stroke="#2a2a2a" stroke-width="1.0"/>
<line x1="640.40" y1="130.50" x2="640.40" y2="142.70" stroke="#2a2a2a" stroke-width="1.0"/>
<line x1="647.35" y1="129.60" x2="647.35" y2="139.80" stroke="#2a2a2a" stroke-width="1.0"/>
<line x1="654.30" y1="132.50" x2="654.30" y2="155.90" stroke="#2a2a2a" stroke-width="1.0"/>
<path d="M382.50,87.50 L389.52,90.50 L396.54,95.40 L403.56,83.30 L410.58,84.10 L417.60,73.80 L424.62,107.30 L431.64,83.70 L438.66,108.10 L441.70,94.69 M444.10,99.22 L447.80,82.90 L454.60,59.60 L461.40,63.80 L468.20,61.50 L475.00,49.60 L481.80,88.70 L488.60,95.20 L492.20,130.98 M494.60,121.29 L497.60,151.10 L504.10,150.60 L510.60,138.60 L513.20,133.05 M515.60,134.89 L519.30,127.00 L526.33,135.60 L533.36,123.50 L540.39,115.80 L547.42,126.40 L554.45,123.50 L561.48,105.10 L568.51,137.20 L575.54,148.30 L582.57,141.70 L589.60,133.50 L596.63,117.60 L603.66,143.70 L610.69,146.80 L617.72,122.30 L620.30,120.75 M622.70,121.29 L626.50,119.00 L633.45,133.20 L640.40,136.60 L647.35,134.70 L654.30,144.20" fill="none" stroke="#000" stroke-width="1.2" stroke-linejoin="round"/>
<circle cx="382.50" cy="87.50" r="2.4" fill="#000" stroke="#000" stroke-width="1"/>
<circle cx="389.52" cy="90.50" r="2.4" fill="#000" stroke="#000" stroke-width="1"/>
<circle cx="396.54" cy="95.40" r="2.4" fill="#000" stroke="#000" stroke-width="1"/>
<circle cx="403.56" cy="83.30" r="2.4" fill="#000" stroke="#000" stroke-width="1"/>
<circle cx="410.58" cy="84.10" r="2.4" fill="#000" stroke="#000" stroke-width="1"/>
<circle cx="417.60" cy="73.80" r="2.4" fill="#000" stroke="#000" stroke-width="1"/>
<circle cx="424.62" cy="107.30" r="2.4" fill="#000" stroke="#000" stroke-width="1"/>
<circle cx="431.64" cy="83.70" r="2.4" fill="#000" stroke="#000" stroke-width="1"/>
<circle cx="438.66" cy="108.10" r="2.4" fill="#000" stroke="#000" stroke-width="1"/>
<circle cx="447.80" cy="82.90" r="2.4" fill="#000" stroke="#000" stroke-width="1"/>
<circle cx="454.60" cy="59.60" r="2.4" fill="#000" stroke="#000" stroke-width="1"/>
<circle cx="461.40" cy="63.80" r="2.4" fill="#000" stroke="#000" stroke-width="1"/>
<circle cx="468.20" cy="61.50" r="2.4" fill="#000" stroke="#000" stroke-width="1"/>
<circle cx="475.00" cy="49.60" r="2.4" fill="#000" stroke="#000" stroke-width="1"/>
<circle cx="481.80" cy="88.70" r="2.4" fill="#000" stroke="#000" stroke-width="1"/>
<circle cx="488.60" cy="95.20" r="2.4" fill="#000" stroke="#000" stroke-width="1"/>
<circle cx="497.60" cy="151.10" r="2.4" fill="#000" stroke="#000" stroke-width="1"/>
<circle cx="504.10" cy="150.60" r="2.4" fill="#000" stroke="#000" stroke-width="1"/>
<circle cx="510.60" cy="138.60" r="2.4" fill="#000" stroke="#000" stroke-width="1"/>
<circle cx="519.30" cy="127.00" r="2.4" fill="#000" stroke="#000" stroke-width="1"/>
<circle cx="526.33" cy="135.60" r="2.4" fill="#000" stroke="#000" stroke-width="1"/>
<circle cx="533.36" cy="123.50" r="2.4" fill="#000" stroke="#000" stroke-width="1"/>
<circle cx="540.39" cy="115.80" r="2.4" fill="#000" stroke="#000" stroke-width="1"/>
<circle cx="547.42" cy="126.40" r="2.4" fill="#000" stroke="#000" stroke-width="1"/>
<circle cx="554.45" cy="123.50" r="2.4" fill="#000" stroke="#000" stroke-width="1"/>
<circle cx="561.48" cy="105.10" r="2.4" fill="#000" stroke="#000" stroke-width="1"/>
<circle cx="568.51" cy="137.20" r="2.4" fill="#000" stroke="#000" stroke-width="1"/>
<circle cx="575.54" cy="148.30" r="2.4" fill="#000" stroke="#000" stroke-width="1"/>
<circle cx="582.57" cy="141.70" r="2.4" fill="#000" stroke="#000" stroke-width="1"/>
<circle cx="589.60" cy="133.50" r="2.4" fill="#000" stroke="#000" stroke-width="1"/>
<circle cx="596.63" cy="117.60" r="2.4" fill="#000" stroke="#000" stroke-width="1"/>
<circle cx="603.66" cy="143.70" r="2.4" fill="#000" stroke="#000" stroke-width="1"/>
<circle cx="610.69" cy="146.80" r="2.4" fill="#000" stroke="#000" stroke-width="1"/>
<circle cx="617.72" cy="122.30" r="2.4" fill="#000" stroke="#000" stroke-width="1"/>
<circle cx="626.50" cy="119.00" r="2.4" fill="#000" stroke="#000" stroke-width="1"/>
<circle cx="633.45" cy="133.20" r="2.4" fill="#000" stroke="#000" stroke-width="1"/>
<circle cx="640.40" cy="136.60" r="2.4" fill="#000" stroke="#000" stroke-width="1"/>
<circle cx="647.35" cy="134.70" r="2.4" fill="#000" stroke="#000" stroke-width="1"/>
<circle cx="654.30" cy="144.20" r="2.4" fill="#000" stroke="#000" stroke-width="1"/>
<text x="661.9" y="11.2" font-size="10.5" text-anchor="end" font-weight="bold" >mf-CA3</text>
<text x="486.0" y="36.6" font-size="10.5" text-anchor="start" font-weight="normal" >LFS</text>
<line x1="494.60" y1="41.70" x2="494.60" y2="57.00" stroke="#000" stroke-width="1.3"/>
<path d="M492.60,56.50 L496.60,56.50 L494.60,61.00 Z" fill="#000"/>
<text x="399.1" y="142.0" font-size="10.5" text-anchor="start" font-weight="normal" >Injection</text>
<line x1="419.20" y1="131.10" x2="419.20" y2="117.00" stroke="#000" stroke-width="1.3"/>
<path d="M417.20,117.50 L421.20,117.50 L419.20,113.00 Z" fill="#000"/>
<circle cx="583.9" cy="182.3" r="2.8" fill="#000"/>
<text x="588.8" y="185.8" font-size="10.0" text-anchor="start" font-weight="normal" >Vehicle</text>
<circle cx="583.9" cy="193.9" r="2.3" fill="#fff" stroke="#000" stroke-width="1"/>
<text x="588.8" y="197.4" font-size="10.0" text-anchor="start" font-weight="normal" >Actinomycin D</text>
<text x="503.9" y="236.0" font-size="10.2" text-anchor="middle" font-weight="normal" >Time (min)</text>
<text x="7.0" y="249.2" font-size="10.5" text-anchor="start" font-weight="bold" >C</text>
<line x1="45.50" y1="251.70" x2="45.50" y2="445.40" stroke="#000" stroke-width="1.3"/>
<line x1="42.50" y1="444.80" x2="45.50" y2="444.80" stroke="#000" stroke-width="1.1"/>
<text x="39.0" y="448.6" font-size="10.0" text-anchor="end" font-weight="normal" >60</text>
<line x1="42.50" y1="425.54" x2="45.50" y2="425.54" stroke="#000" stroke-width="1.1"/>
<text x="39.0" y="429.3" font-size="10.0" text-anchor="end" font-weight="normal" >80</text>
<line x1="42.50" y1="406.28" x2="45.50" y2="406.28" stroke="#000" stroke-width="1.1"/>
<text x="39.0" y="410.1" font-size="10.0" text-anchor="end" font-weight="normal" >100</text>
<line x1="42.50" y1="387.02" x2="45.50" y2="387.02" stroke="#000" stroke-width="1.1"/>
<text x="39.0" y="390.8" font-size="10.0" text-anchor="end" font-weight="normal" >120</text>
<line x1="42.50" y1="367.76" x2="45.50" y2="367.76" stroke="#000" stroke-width="1.1"/>
<text x="39.0" y="371.6" font-size="10.0" text-anchor="end" font-weight="normal" >140</text>
<line x1="42.50" y1="348.50" x2="45.50" y2="348.50" stroke="#000" stroke-width="1.1"/>
<text x="39.0" y="352.3" font-size="10.0" text-anchor="end" font-weight="normal" >160</text>
<line x1="42.50" y1="329.24" x2="45.50" y2="329.24" stroke="#000" stroke-width="1.1"/>
<text x="39.0" y="333.0" font-size="10.0" text-anchor="end" font-weight="normal" >180</text>
<line x1="42.50" y1="309.98" x2="45.50" y2="309.98" stroke="#000" stroke-width="1.1"/>
<text x="39.0" y="313.8" font-size="10.0" text-anchor="end" font-weight="normal" >200</text>
<line x1="42.50" y1="290.72" x2="45.50" y2="290.72" stroke="#000" stroke-width="1.1"/>
<text x="39.0" y="294.5" font-size="10.0" text-anchor="end" font-weight="normal" >220</text>
<line x1="42.50" y1="271.46" x2="45.50" y2="271.46" stroke="#000" stroke-width="1.1"/>
<text x="39.0" y="275.3" font-size="10.0" text-anchor="end" font-weight="normal" >240</text>
<line x1="42.50" y1="252.20" x2="45.50" y2="252.20" stroke="#000" stroke-width="1.1"/>
<text x="39.0" y="256.0" font-size="10.0" text-anchor="end" font-weight="normal" >260</text>
<line x1="44.90" y1="444.80" x2="321.70" y2="444.80" stroke="#000" stroke-width="1.3"/>
<line x1="48.60" y1="444.80" x2="48.60" y2="447.80" stroke="#000" stroke-width="1.0"/>
<line x1="55.62" y1="444.80" x2="55.62" y2="447.80" stroke="#000" stroke-width="1.0"/>
<line x1="62.64" y1="444.80" x2="62.64" y2="447.80" stroke="#000" stroke-width="1.0"/>
<line x1="69.66" y1="444.80" x2="69.66" y2="447.80" stroke="#000" stroke-width="1.0"/>
<line x1="76.68" y1="444.80" x2="76.68" y2="447.80" stroke="#000" stroke-width="1.0"/>
<line x1="83.70" y1="444.80" x2="83.70" y2="447.80" stroke="#000" stroke-width="1.0"/>
<line x1="90.72" y1="444.80" x2="90.72" y2="447.80" stroke="#000" stroke-width="1.0"/>
<line x1="97.74" y1="444.80" x2="97.74" y2="447.80" stroke="#000" stroke-width="1.0"/>
<line x1="104.76" y1="444.80" x2="104.76" y2="447.80" stroke="#000" stroke-width="1.0"/>
<line x1="111.78" y1="444.80" x2="111.78" y2="447.80" stroke="#000" stroke-width="1.0"/>
<line x1="118.80" y1="444.80" x2="118.80" y2="447.80" stroke="#000" stroke-width="1.0"/>
<line x1="125.82" y1="444.80" x2="125.82" y2="447.80" stroke="#000" stroke-width="1.0"/>
<line x1="132.84" y1="444.80" x2="132.84" y2="447.80" stroke="#000" stroke-width="1.0"/>
<line x1="139.86" y1="444.80" x2="139.86" y2="447.80" stroke="#000" stroke-width="1.0"/>
<line x1="146.88" y1="444.80" x2="146.88" y2="447.80" stroke="#000" stroke-width="1.0"/>
<line x1="153.90" y1="444.80" x2="153.90" y2="447.80" stroke="#000" stroke-width="1.0"/>
<line x1="163.00" y1="444.80" x2="163.00" y2="447.80" stroke="#000" stroke-width="1.0"/>
<line x1="169.20" y1="444.80" x2="169.20" y2="447.80" stroke="#000" stroke-width="1.0"/>
<line x1="175.40" y1="444.80" x2="175.40" y2="447.80" stroke="#000" stroke-width="1.0"/>
<line x1="184.40" y1="444.80" x2="184.40" y2="447.80" stroke="#000" stroke-width="1.0"/>
<line x1="191.36" y1="444.80" x2="191.36" y2="447.80" stroke="#000" stroke-width="1.0"/>
<line x1="198.32" y1="444.80" x2="198.32" y2="447.80" stroke="#000" stroke-width="1.0"/>
<line x1="205.28" y1="444.80" x2="205.28" y2="447.80" stroke="#000" stroke-width="1.0"/>
<line x1="212.24" y1="444.80" x2="212.24" y2="447.80" stroke="#000" stroke-width="1.0"/>
<line x1="219.20" y1="444.80" x2="219.20" y2="447.80" stroke="#000" stroke-width="1.0"/>
<line x1="226.16" y1="444.80" x2="226.16" y2="447.80" stroke="#000" stroke-width="1.0"/>
<line x1="233.12" y1="444.80" x2="233.12" y2="447.80" stroke="#000" stroke-width="1.0"/>
<line x1="240.08" y1="444.80" x2="240.08" y2="447.80" stroke="#000" stroke-width="1.0"/>
<line x1="247.04" y1="444.80" x2="247.04" y2="447.80" stroke="#000" stroke-width="1.0"/>
<line x1="254.00" y1="444.80" x2="254.00" y2="447.80" stroke="#000" stroke-width="1.0"/>
<line x1="260.96" y1="444.80" x2="260.96" y2="447.80" stroke="#000" stroke-width="1.0"/>
<line x1="267.92" y1="444.80" x2="267.92" y2="447.80" stroke="#000" stroke-width="1.0"/>
<line x1="274.88" y1="444.80" x2="274.88" y2="447.80" stroke="#000" stroke-width="1.0"/>
<line x1="281.84" y1="444.80" x2="281.84" y2="447.80" stroke="#000" stroke-width="1.0"/>
<line x1="290.80" y1="444.80" x2="290.80" y2="447.80" stroke="#000" stroke-width="1.0"/>
<line x1="297.63" y1="444.80" x2="297.63" y2="447.80" stroke="#000" stroke-width="1.0"/>
<line x1="304.46" y1="444.80" x2="304.46" y2="447.80" stroke="#000" stroke-width="1.0"/>
<line x1="311.29" y1="444.80" x2="311.29" y2="447.80" stroke="#000" stroke-width="1.0"/>
<line x1="318.12" y1="444.80" x2="318.12" y2="447.80" stroke="#000" stroke-width="1.0"/>
<line x1="157.30" y1="442.20" x2="157.30" y2="447.80" stroke="#000" stroke-width="1.0"/>
<line x1="159.70" y1="442.20" x2="159.70" y2="447.80" stroke="#000" stroke-width="1.0"/>
<line x1="178.20" y1="442.20" x2="178.20" y2="447.80" stroke="#000" stroke-width="1.0"/>
<line x1="180.60" y1="442.20" x2="180.60" y2="447.80" stroke="#000" stroke-width="1.0"/>
<line x1="284.00" y1="442.20" x2="284.00" y2="447.80" stroke="#000" stroke-width="1.0"/>
<line x1="286.40" y1="442.20" x2="286.40" y2="447.80" stroke="#000" stroke-width="1.0"/>
<text x="48.6" y="461.5" font-size="10.0" text-anchor="middle" font-weight="normal" >-150</text>
<text x="76.2" y="461.5" font-size="10.0" text-anchor="middle" font-weight="normal" >-130</text>
<text x="118.4" y="461.5" font-size="10.0" text-anchor="middle" font-weight="normal" >-80</text>
<text x="146.6" y="461.5" font-size="10.0" text-anchor="middle" font-weight="normal" >-20</text>
<text x="185.7" y="461.5" font-size="10.0" text-anchor="middle" font-weight="normal" >30</text>
<text x="226.5" y="461.5" font-size="10.0" text-anchor="middle" font-weight="normal" >120</text>
<text x="254.2" y="461.5" font-size="10.0" text-anchor="middle" font-weight="normal" >180</text>
<text x="291.1" y="461.5" font-size="10.0" text-anchor="middle" font-weight="normal" >1440</text>
<text x="318.4" y="461.5" font-size="10.0" text-anchor="middle" font-weight="normal" >1500</text>
<text x="0" y="0" font-size="10.3" text-anchor="middle" transform="translate(14.5,355.3) rotate(-90)">fEPSP slope (% baseline)</text>
<line x1="48.70" y1="400.20" x2="48.70" y2="408.60" stroke="#2a2a2a" stroke-width="1.0"/>
<line x1="104.50" y1="406.80" x2="104.50" y2="416.00" stroke="#2a2a2a" stroke-width="1.0"/>
<line x1="111.60" y1="405.60" x2="111.60" y2="419.20" stroke="#2a2a2a" stroke-width="1.0"/>
<line x1="125.70" y1="397.20" x2="125.70" y2="414.00" stroke="#2a2a2a" stroke-width="1.0"/>
<line x1="132.80" y1="406.00" x2="132.80" y2="414.60" stroke="#2a2a2a" stroke-width="1.0"/>
<line x1="139.90" y1="403.00" x2="139.90" y2="414.40" stroke="#2a2a2a" stroke-width="1.0"/>
<line x1="153.80" y1="398.80" x2="153.80" y2="412.00" stroke="#2a2a2a" stroke-width="1.0"/>
<line x1="163.00" y1="380.90" x2="163.00" y2="404.90" stroke="#2a2a2a" stroke-width="1.0"/>
<line x1="169.10" y1="375.30" x2="169.10" y2="401.30" stroke="#2a2a2a" stroke-width="1.0"/>
<line x1="175.40" y1="365.00" x2="175.40" y2="391.60" stroke="#2a2a2a" stroke-width="1.0"/>
<line x1="191.30" y1="358.80" x2="191.30" y2="381.60" stroke="#2a2a2a" stroke-width="1.0"/>
<line x1="198.30" y1="356.70" x2="198.30" y2="384.30" stroke="#2a2a2a" stroke-width="1.0"/>
<line x1="205.40" y1="377.80" x2="205.40" y2="392.40" stroke="#2a2a2a" stroke-width="1.0"/>
<line x1="212.40" y1="365.60" x2="212.40" y2="391.60" stroke="#2a2a2a" stroke-width="1.0"/>
<line x1="219.20" y1="379.50" x2="219.20" y2="400.50" stroke="#2a2a2a" stroke-width="1.0"/>
<line x1="226.20" y1="364.00" x2="226.20" y2="393.20" stroke="#2a2a2a" stroke-width="1.0"/>
<line x1="233.00" y1="372.90" x2="233.00" y2="401.30" stroke="#2a2a2a" stroke-width="1.0"/>
<line x1="240.00" y1="386.70" x2="240.00" y2="406.20" stroke="#2a2a2a" stroke-width="1.0"/>
<line x1="246.90" y1="395.80" x2="246.90" y2="412.70" stroke="#2a2a2a" stroke-width="1.0"/>
<line x1="253.70" y1="401.10" x2="253.70" y2="412.70" stroke="#2a2a2a" stroke-width="1.0"/>
<line x1="260.70" y1="392.70" x2="260.70" y2="405.00" stroke="#2a2a2a" stroke-width="1.0"/>
<line x1="267.60" y1="400.00" x2="267.60" y2="414.00" stroke="#2a2a2a" stroke-width="1.0"/>
<line x1="274.40" y1="392.70" x2="274.40" y2="407.00" stroke="#2a2a2a" stroke-width="1.0"/>
<line x1="281.40" y1="403.80" x2="281.40" y2="410.90" stroke="#2a2a2a" stroke-width="1.0"/>
<line x1="290.80" y1="402.90" x2="290.80" y2="412.70" stroke="#2a2a2a" stroke-width="1.0"/>
<line x1="297.60" y1="402.00" x2="297.60" y2="415.40" stroke="#2a2a2a" stroke-width="1.0"/>
<line x1="304.50" y1="398.40" x2="304.50" y2="407.30" stroke="#2a2a2a" stroke-width="1.0"/>
<line x1="311.30" y1="386.00" x2="311.30" y2="403.80" stroke="#2a2a2a" stroke-width="1.0"/>
<line x1="318.10" y1="399.90" x2="318.10" y2="410.90" stroke="#2a2a2a" stroke-width="1.0"/>
<path d="M48.60,404.40 L55.62,405.10 L62.64,404.20 L69.66,407.40 L76.68,410.90 L83.70,409.60 L90.72,412.70 L97.74,410.00 L104.76,411.30 L111.78,411.90 L118.80,410.80 L125.82,405.40 L132.84,410.30 L139.86,408.70 L146.88,414.00 L153.90,405.40 L157.30,397.93 M159.70,400.15 L163.00,392.90 L169.20,388.30 L175.40,378.30 L178.20,377.16 M180.60,377.55 L184.40,376.00 L191.36,370.20 L198.32,370.50 L205.28,385.10 L212.24,378.60 L219.20,390.00 L226.16,378.60 L233.12,387.10 L240.08,396.50 L247.04,404.60 L254.00,407.30 L260.96,399.00 L267.92,408.20 L274.88,400.20 L281.84,407.00 L284.00,407.46 M286.40,407.26 L290.80,408.20 L297.63,408.60 L304.46,403.40 L311.29,395.80 L318.12,405.90" fill="none" stroke="#000" stroke-width="1.2" stroke-linejoin="round"/>
<circle cx="48.60" cy="404.40" r="2.4" fill="#fff" stroke="#000" stroke-width="1"/>
<circle cx="55.62" cy="405.10" r="2.4" fill="#fff" stroke="#000" stroke-width="1"/>
<circle cx="62.64" cy="404.20" r="2.4" fill="#fff" stroke="#000" stroke-width="1"/>
<circle cx="69.66" cy="407.40" r="2.4" fill="#fff" stroke="#000" stroke-width="1"/>
<circle cx="76.68" cy="410.90" r="2.4" fill="#fff" stroke="#000" stroke-width="1"/>
<circle cx="83.70" cy="409.60" r="2.4" fill="#fff" stroke="#000" stroke-width="1"/>
<circle cx="90.72" cy="412.70" r="2.4" fill="#fff" stroke="#000" stroke-width="1"/>
<circle cx="97.74" cy="410.00" r="2.4" fill="#fff" stroke="#000" stroke-width="1"/>
<circle cx="104.76" cy="411.30" r="2.4" fill="#fff" stroke="#000" stroke-width="1"/>
<circle cx="111.78" cy="411.90" r="2.4" fill="#fff" stroke="#000" stroke-width="1"/>
<circle cx="118.80" cy="410.80" r="2.4" fill="#fff" stroke="#000" stroke-width="1"/>
<circle cx="125.82" cy="405.40" r="2.4" fill="#fff" stroke="#000" stroke-width="1"/>
<circle cx="132.84" cy="410.30" r="2.4" fill="#fff" stroke="#000" stroke-width="1"/>
<circle cx="139.86" cy="408.70" r="2.4" fill="#fff" stroke="#000" stroke-width="1"/>
<circle cx="146.88" cy="414.00" r="2.4" fill="#fff" stroke="#000" stroke-width="1"/>
<circle cx="153.90" cy="405.40" r="2.4" fill="#fff" stroke="#000" stroke-width="1"/>
<circle cx="163.00" cy="392.90" r="2.4" fill="#fff" stroke="#000" stroke-width="1"/>
<circle cx="169.20" cy="388.30" r="2.4" fill="#fff" stroke="#000" stroke-width="1"/>
<circle cx="175.40" cy="378.30" r="2.4" fill="#fff" stroke="#000" stroke-width="1"/>
<circle cx="184.40" cy="376.00" r="2.4" fill="#fff" stroke="#000" stroke-width="1"/>
<circle cx="191.36" cy="370.20" r="2.4" fill="#fff" stroke="#000" stroke-width="1"/>
<circle cx="198.32" cy="370.50" r="2.4" fill="#fff" stroke="#000" stroke-width="1"/>
<circle cx="205.28" cy="385.10" r="2.4" fill="#fff" stroke="#000" stroke-width="1"/>
<circle cx="212.24" cy="378.60" r="2.4" fill="#fff" stroke="#000" stroke-width="1"/>
<circle cx="219.20" cy="390.00" r="2.4" fill="#fff" stroke="#000" stroke-width="1"/>
<circle cx="226.16" cy="378.60" r="2.4" fill="#fff" stroke="#000" stroke-width="1"/>
<circle cx="233.12" cy="387.10" r="2.4" fill="#fff" stroke="#000" stroke-width="1"/>
<circle cx="240.08" cy="396.50" r="2.4" fill="#fff" stroke="#000" stroke-width="1"/>
<circle cx="247.04" cy="404.60" r="2.4" fill="#fff" stroke="#000" stroke-width="1"/>
<circle cx="254.00" cy="407.30" r="2.4" fill="#fff" stroke="#000" stroke-width="1"/>
<circle cx="260.96" cy="399.00" r="2.4" fill="#fff" stroke="#000" stroke-width="1"/>
<circle cx="267.92" cy="408.20" r="2.4" fill="#fff" stroke="#000" stroke-width="1"/>
<circle cx="274.88" cy="400.20" r="2.4" fill="#fff" stroke="#000" stroke-width="1"/>
<circle cx="281.84" cy="407.00" r="2.4" fill="#fff" stroke="#000" stroke-width="1"/>
<circle cx="290.80" cy="408.20" r="2.4" fill="#fff" stroke="#000" stroke-width="1"/>
<circle cx="297.63" cy="408.60" r="2.4" fill="#fff" stroke="#000" stroke-width="1"/>
<circle cx="304.46" cy="403.40" r="2.4" fill="#fff" stroke="#000" stroke-width="1"/>
<circle cx="311.29" cy="395.80" r="2.4" fill="#fff" stroke="#000" stroke-width="1"/>
<circle cx="318.12" cy="405.90" r="2.4" fill="#fff" stroke="#000" stroke-width="1"/>
<line x1="48.70" y1="406.00" x2="48.70" y2="414.00" stroke="#2a2a2a" stroke-width="1.0"/>
<line x1="55.70" y1="402.00" x2="55.70" y2="410.00" stroke="#2a2a2a" stroke-width="1.0"/>
<line x1="62.70" y1="400.20" x2="62.70" y2="410.90" stroke="#2a2a2a" stroke-width="1.0"/>
<line x1="69.70" y1="400.00" x2="69.70" y2="409.00" stroke="#2a2a2a" stroke-width="1.0"/>
<line x1="76.70" y1="402.00" x2="76.70" y2="415.00" stroke="#2a2a2a" stroke-width="1.0"/>
<line x1="83.70" y1="402.00" x2="83.70" y2="412.00" stroke="#2a2a2a" stroke-width="1.0"/>
<line x1="90.80" y1="412.00" x2="90.80" y2="420.00" stroke="#2a2a2a" stroke-width="1.0"/>
<line x1="97.80" y1="405.00" x2="97.80" y2="414.00" stroke="#2a2a2a" stroke-width="1.0"/>
<line x1="118.70" y1="406.00" x2="118.70" y2="415.00" stroke="#2a2a2a" stroke-width="1.0"/>
<line x1="132.80" y1="414.00" x2="132.80" y2="423.40" stroke="#2a2a2a" stroke-width="1.0"/>
<line x1="139.90" y1="411.00" x2="139.90" y2="418.00" stroke="#2a2a2a" stroke-width="1.0"/>
<line x1="146.90" y1="404.00" x2="146.90" y2="420.70" stroke="#2a2a2a" stroke-width="1.0"/>
<line x1="153.80" y1="410.40" x2="153.80" y2="418.00" stroke="#2a2a2a" stroke-width="1.0"/>
<line x1="163.00" y1="355.10" x2="163.00" y2="378.90" stroke="#2a2a2a" stroke-width="1.0"/>
<line x1="169.10" y1="366.50" x2="169.10" y2="395.70" stroke="#2a2a2a" stroke-width="1.0"/>
<line x1="175.40" y1="348.60" x2="175.40" y2="378.40" stroke="#2a2a2a" stroke-width="1.0"/>
<line x1="184.40" y1="349.10" x2="184.40" y2="397.30" stroke="#2a2a2a" stroke-width="1.0"/>
<line x1="191.30" y1="369.70" x2="191.30" y2="402.10" stroke="#2a2a2a" stroke-width="1.0"/>
<line x1="198.30" y1="357.20" x2="198.30" y2="404.20" stroke="#2a2a2a" stroke-width="1.0"/>
<line x1="205.40" y1="359.20" x2="205.40" y2="384.40" stroke="#2a2a2a" stroke-width="1.0"/>
<line x1="212.40" y1="357.90" x2="212.40" y2="387.30" stroke="#2a2a2a" stroke-width="1.0"/>
<line x1="219.20" y1="356.70" x2="219.20" y2="376.30" stroke="#2a2a2a" stroke-width="1.0"/>
<line x1="226.20" y1="351.90" x2="226.20" y2="385.30" stroke="#2a2a2a" stroke-width="1.0"/>
<line x1="233.00" y1="352.70" x2="233.00" y2="380.30" stroke="#2a2a2a" stroke-width="1.0"/>
<line x1="240.00" y1="332.40" x2="240.00" y2="372.10" stroke="#2a2a2a" stroke-width="1.0"/>
<line x1="246.90" y1="340.00" x2="246.90" y2="381.50" stroke="#2a2a2a" stroke-width="1.0"/>
<line x1="253.70" y1="338.40" x2="253.70" y2="363.70" stroke="#2a2a2a" stroke-width="1.0"/>
<line x1="260.70" y1="347.10" x2="260.70" y2="366.00" stroke="#2a2a2a" stroke-width="1.0"/>
<line x1="267.60" y1="338.70" x2="267.60" y2="368.10" stroke="#2a2a2a" stroke-width="1.0"/>
<line x1="274.40" y1="344.10" x2="274.40" y2="370.80" stroke="#2a2a2a" stroke-width="1.0"/>
<line x1="281.40" y1="340.10" x2="281.40" y2="371.70" stroke="#2a2a2a" stroke-width="1.0"/>
<line x1="290.80" y1="350.30" x2="290.80" y2="379.20" stroke="#2a2a2a" stroke-width="1.0"/>
<line x1="297.60" y1="355.30" x2="297.60" y2="385.60" stroke="#2a2a2a" stroke-width="1.0"/>
<line x1="304.50" y1="330.20" x2="304.50" y2="373.10" stroke="#2a2a2a" stroke-width="1.0"/>
<line x1="311.30" y1="344.10" x2="311.30" y2="373.50" stroke="#2a2a2a" stroke-width="1.0"/>
<line x1="318.10" y1="344.10" x2="318.10" y2="377.90" stroke="#2a2a2a" stroke-width="1.0"/>
<path d="M48.60,410.00 L55.62,406.00 L62.64,405.60 L69.66,404.40 L76.68,406.50 L83.70,407.80 L90.72,416.30 L97.74,410.00 L104.76,413.40 L111.78,414.50 L118.80,410.80 L125.82,412.40 L132.84,418.70 L139.86,414.50 L146.88,412.40 L153.90,414.20 L157.30,385.98 M159.70,394.39 L163.00,367.00 L169.20,381.10 L175.40,363.50 L178.20,368.43 M180.60,366.71 L184.40,373.40 L191.36,385.90 L198.32,380.70 L205.28,371.80 L212.24,372.60 L219.20,366.50 L226.16,368.60 L233.12,366.50 L240.08,352.20 L247.04,361.10 L254.00,351.70 L260.96,357.10 L267.92,353.50 L274.88,357.80 L281.84,356.00 L284.00,359.51 M286.40,357.95 L290.80,365.10 L297.63,370.80 L304.46,351.60 L311.29,358.90 L318.12,361.40" fill="none" stroke="#000" stroke-width="1.2" stroke-linejoin="round"/>
<circle cx="48.60" cy="410.00" r="2.4" fill="#000" stroke="#000" stroke-width="1"/>
<circle cx="55.62" cy="406.00" r="2.4" fill="#000" stroke="#000" stroke-width="1"/>
<circle cx="62.64" cy="405.60" r="2.4" fill="#000" stroke="#000" stroke-width="1"/>
<circle cx="69.66" cy="404.40" r="2.4" fill="#000" stroke="#000" stroke-width="1"/>
<circle cx="76.68" cy="406.50" r="2.4" fill="#000" stroke="#000" stroke-width="1"/>
<circle cx="83.70" cy="407.80" r="2.4" fill="#000" stroke="#000" stroke-width="1"/>
<circle cx="90.72" cy="416.30" r="2.4" fill="#000" stroke="#000" stroke-width="1"/>
<circle cx="97.74" cy="410.00" r="2.4" fill="#000" stroke="#000" stroke-width="1"/>
<circle cx="104.76" cy="413.40" r="2.4" fill="#000" stroke="#000" stroke-width="1"/>
<circle cx="111.78" cy="414.50" r="2.4" fill="#000" stroke="#000" stroke-width="1"/>
<circle cx="118.80" cy="410.80" r="2.4" fill="#000" stroke="#000" stroke-width="1"/>
<circle cx="125.82" cy="412.40" r="2.4" fill="#000" stroke="#000" stroke-width="1"/>
<circle cx="132.84" cy="418.70" r="2.4" fill="#000" stroke="#000" stroke-width="1"/>
<circle cx="139.86" cy="414.50" r="2.4" fill="#000" stroke="#000" stroke-width="1"/>
<circle cx="146.88" cy="412.40" r="2.4" fill="#000" stroke="#000" stroke-width="1"/>
<circle cx="153.90" cy="414.20" r="2.4" fill="#000" stroke="#000" stroke-width="1"/>
<circle cx="163.00" cy="367.00" r="2.4" fill="#000" stroke="#000" stroke-width="1"/>
<circle cx="169.20" cy="381.10" r="2.4" fill="#000" stroke="#000" stroke-width="1"/>
<circle cx="175.40" cy="363.50" r="2.4" fill="#000" stroke="#000" stroke-width="1"/>
<circle cx="184.40" cy="373.40" r="2.4" fill="#000" stroke="#000" stroke-width="1"/>
<circle cx="191.36" cy="385.90" r="2.4" fill="#000" stroke="#000" stroke-width="1"/>
<circle cx="198.32" cy="380.70" r="2.4" fill="#000" stroke="#000" stroke-width="1"/>
<circle cx="205.28" cy="371.80" r="2.4" fill="#000" stroke="#000" stroke-width="1"/>
<circle cx="212.24" cy="372.60" r="2.4" fill="#000" stroke="#000" stroke-width="1"/>
<circle cx="219.20" cy="366.50" r="2.4" fill="#000" stroke="#000" stroke-width="1"/>
<circle cx="226.16" cy="368.60" r="2.4" fill="#000" stroke="#000" stroke-width="1"/>
<circle cx="233.12" cy="366.50" r="2.4" fill="#000" stroke="#000" stroke-width="1"/>
<circle cx="240.08" cy="352.20" r="2.4" fill="#000" stroke="#000" stroke-width="1"/>
<circle cx="247.04" cy="361.10" r="2.4" fill="#000" stroke="#000" stroke-width="1"/>
<circle cx="254.00" cy="351.70" r="2.4" fill="#000" stroke="#000" stroke-width="1"/>
<circle cx="260.96" cy="357.10" r="2.4" fill="#000" stroke="#000" stroke-width="1"/>
<circle cx="267.92" cy="353.50" r="2.4" fill="#000" stroke="#000" stroke-width="1"/>
<circle cx="274.88" cy="357.80" r="2.4" fill="#000" stroke="#000" stroke-width="1"/>
<circle cx="281.84" cy="356.00" r="2.4" fill="#000" stroke="#000" stroke-width="1"/>
<circle cx="290.80" cy="365.10" r="2.4" fill="#000" stroke="#000" stroke-width="1"/>
<circle cx="297.63" cy="370.80" r="2.4" fill="#000" stroke="#000" stroke-width="1"/>
<circle cx="304.46" cy="351.60" r="2.4" fill="#000" stroke="#000" stroke-width="1"/>
<circle cx="311.29" cy="358.90" r="2.4" fill="#000" stroke="#000" stroke-width="1"/>
<circle cx="318.12" cy="361.40" r="2.4" fill="#000" stroke="#000" stroke-width="1"/>
<text x="147.5" y="308.8" font-size="10.5" text-anchor="start" font-weight="normal" >HFS</text>
<line x1="157.80" y1="315.10" x2="157.80" y2="329.00" stroke="#000" stroke-width="1.3"/>
<path d="M155.80,328.50 L159.80,328.50 L157.80,333.00 Z" fill="#000"/>
<text x="70.4" y="376.5" font-size="10.5" text-anchor="start" font-weight="normal" >Injection</text>
<line x1="89.00" y1="382.40" x2="89.00" y2="395.70" stroke="#000" stroke-width="1.3"/>
<path d="M87.00,395.20 L91.00,395.20 L89.00,399.70 Z" fill="#000"/>
<circle cx="259.2" cy="424.2" r="2.8" fill="#000"/>
<text x="264.1" y="427.7" font-size="10.0" text-anchor="start" font-weight="normal" >Vehicle</text>
<circle cx="259.2" cy="435.6" r="2.3" fill="#fff" stroke="#000" stroke-width="1"/>
<text x="264.1" y="439.1" font-size="10.0" text-anchor="start" font-weight="normal" >DRB</text>
<text x="168.6" y="476.6" font-size="10.2" text-anchor="middle" font-weight="normal" >Time (min)</text>
<text x="343.3" y="248.6" font-size="10.5" text-anchor="start" font-weight="bold" >D</text>
<line x1="382.10" y1="251.40" x2="382.10" y2="445.90" stroke="#000" stroke-width="1.3"/>
<line x1="379.10" y1="445.30" x2="382.10" y2="445.30" stroke="#000" stroke-width="1.1"/>
<text x="376.5" y="449.1" font-size="10.0" text-anchor="end" font-weight="normal" >40</text>
<line x1="379.10" y1="406.62" x2="382.10" y2="406.62" stroke="#000" stroke-width="1.1"/>
<text x="376.5" y="410.4" font-size="10.0" text-anchor="end" font-weight="normal" >60</text>
<line x1="379.10" y1="367.94" x2="382.10" y2="367.94" stroke="#000" stroke-width="1.1"/>
<text x="376.5" y="371.7" font-size="10.0" text-anchor="end" font-weight="normal" >80</text>
<line x1="379.10" y1="329.26" x2="382.10" y2="329.26" stroke="#000" stroke-width="1.1"/>
<text x="376.5" y="333.1" font-size="10.0" text-anchor="end" font-weight="normal" >100</text>
<line x1="379.10" y1="290.58" x2="382.10" y2="290.58" stroke="#000" stroke-width="1.1"/>
<text x="376.5" y="294.4" font-size="10.0" text-anchor="end" font-weight="normal" >120</text>
<line x1="379.10" y1="251.90" x2="382.10" y2="251.90" stroke="#000" stroke-width="1.1"/>
<text x="376.5" y="255.7" font-size="10.0" text-anchor="end" font-weight="normal" >140</text>
<line x1="381.50" y1="445.30" x2="658.50" y2="445.30" stroke="#000" stroke-width="1.3"/>
<line x1="385.10" y1="445.30" x2="385.10" y2="448.30" stroke="#000" stroke-width="1.0"/>
<line x1="392.16" y1="445.30" x2="392.16" y2="448.30" stroke="#000" stroke-width="1.0"/>
<line x1="399.22" y1="445.30" x2="399.22" y2="448.30" stroke="#000" stroke-width="1.0"/>
<line x1="406.28" y1="445.30" x2="406.28" y2="448.30" stroke="#000" stroke-width="1.0"/>
<line x1="413.34" y1="445.30" x2="413.34" y2="448.30" stroke="#000" stroke-width="1.0"/>
<line x1="420.40" y1="445.30" x2="420.40" y2="448.30" stroke="#000" stroke-width="1.0"/>
<line x1="427.46" y1="445.30" x2="427.46" y2="448.30" stroke="#000" stroke-width="1.0"/>
<line x1="434.52" y1="445.30" x2="434.52" y2="448.30" stroke="#000" stroke-width="1.0"/>
<line x1="441.58" y1="445.30" x2="441.58" y2="448.30" stroke="#000" stroke-width="1.0"/>
<line x1="448.64" y1="445.30" x2="448.64" y2="448.30" stroke="#000" stroke-width="1.0"/>
<line x1="455.70" y1="445.30" x2="455.70" y2="448.30" stroke="#000" stroke-width="1.0"/>
<line x1="462.76" y1="445.30" x2="462.76" y2="448.30" stroke="#000" stroke-width="1.0"/>
<line x1="469.82" y1="445.30" x2="469.82" y2="448.30" stroke="#000" stroke-width="1.0"/>
<line x1="476.88" y1="445.30" x2="476.88" y2="448.30" stroke="#000" stroke-width="1.0"/>
<line x1="483.94" y1="445.30" x2="483.94" y2="448.30" stroke="#000" stroke-width="1.0"/>
<line x1="491.00" y1="445.30" x2="491.00" y2="448.30" stroke="#000" stroke-width="1.0"/>
<line x1="499.60" y1="445.30" x2="499.60" y2="448.30" stroke="#000" stroke-width="1.0"/>
<line x1="505.90" y1="445.30" x2="505.90" y2="448.30" stroke="#000" stroke-width="1.0"/>
<line x1="512.20" y1="445.30" x2="512.20" y2="448.30" stroke="#000" stroke-width="1.0"/>
<line x1="521.10" y1="445.30" x2="521.10" y2="448.30" stroke="#000" stroke-width="1.0"/>
<line x1="528.00" y1="445.30" x2="528.00" y2="448.30" stroke="#000" stroke-width="1.0"/>
<line x1="534.90" y1="445.30" x2="534.90" y2="448.30" stroke="#000" stroke-width="1.0"/>
<line x1="541.80" y1="445.30" x2="541.80" y2="448.30" stroke="#000" stroke-width="1.0"/>
<line x1="548.70" y1="445.30" x2="548.70" y2="448.30" stroke="#000" stroke-width="1.0"/>
<line x1="555.60" y1="445.30" x2="555.60" y2="448.30" stroke="#000" stroke-width="1.0"/>
<line x1="562.50" y1="445.30" x2="562.50" y2="448.30" stroke="#000" stroke-width="1.0"/>
<line x1="569.40" y1="445.30" x2="569.40" y2="448.30" stroke="#000" stroke-width="1.0"/>
<line x1="576.30" y1="445.30" x2="576.30" y2="448.30" stroke="#000" stroke-width="1.0"/>
<line x1="583.20" y1="445.30" x2="583.20" y2="448.30" stroke="#000" stroke-width="1.0"/>
<line x1="590.10" y1="445.30" x2="590.10" y2="448.30" stroke="#000" stroke-width="1.0"/>
<line x1="597.00" y1="445.30" x2="597.00" y2="448.30" stroke="#000" stroke-width="1.0"/>
<line x1="603.90" y1="445.30" x2="603.90" y2="448.30" stroke="#000" stroke-width="1.0"/>
<line x1="610.80" y1="445.30" x2="610.80" y2="448.30" stroke="#000" stroke-width="1.0"/>
<line x1="617.70" y1="445.30" x2="617.70" y2="448.30" stroke="#000" stroke-width="1.0"/>
<line x1="627.40" y1="445.30" x2="627.40" y2="448.30" stroke="#000" stroke-width="1.0"/>
<line x1="634.30" y1="445.30" x2="634.30" y2="448.30" stroke="#000" stroke-width="1.0"/>
<line x1="641.20" y1="445.30" x2="641.20" y2="448.30" stroke="#000" stroke-width="1.0"/>
<line x1="648.10" y1="445.30" x2="648.10" y2="448.30" stroke="#000" stroke-width="1.0"/>
<line x1="655.00" y1="445.30" x2="655.00" y2="448.30" stroke="#000" stroke-width="1.0"/>
<line x1="493.50" y1="442.70" x2="493.50" y2="448.30" stroke="#000" stroke-width="1.0"/>
<line x1="495.90" y1="442.70" x2="495.90" y2="448.30" stroke="#000" stroke-width="1.0"/>
<line x1="514.50" y1="442.70" x2="514.50" y2="448.30" stroke="#000" stroke-width="1.0"/>
<line x1="516.90" y1="442.70" x2="516.90" y2="448.30" stroke="#000" stroke-width="1.0"/>
<line x1="621.10" y1="442.70" x2="621.10" y2="448.30" stroke="#000" stroke-width="1.0"/>
<line x1="623.50" y1="442.70" x2="623.50" y2="448.30" stroke="#000" stroke-width="1.0"/>
<text x="385.8" y="461.5" font-size="10.0" text-anchor="middle" font-weight="normal" >-150</text>
<text x="412.7" y="461.5" font-size="10.0" text-anchor="middle" font-weight="normal" >-130</text>
<text x="455.4" y="461.5" font-size="10.0" text-anchor="middle" font-weight="normal" >-80</text>
<text x="483.8" y="461.5" font-size="10.0" text-anchor="middle" font-weight="normal" >-20</text>
<text x="520.4" y="461.5" font-size="10.0" text-anchor="middle" font-weight="normal" >30</text>
<text x="562.5" y="461.5" font-size="10.0" text-anchor="middle" font-weight="normal" >120</text>
<text x="591.0" y="461.5" font-size="10.0" text-anchor="middle" font-weight="normal" >180</text>
<text x="627.6" y="461.5" font-size="10.0" text-anchor="middle" font-weight="normal" >1440</text>
<text x="654.5" y="461.5" font-size="10.0" text-anchor="middle" font-weight="normal" >1500</text>
<text x="0" y="0" font-size="10.3" text-anchor="middle" transform="translate(352.7,353.1) rotate(-90)">fEPSP slope (% baseline)</text>
<line x1="385.40" y1="334.40" x2="385.40" y2="362.00" stroke="#2a2a2a" stroke-width="1.0"/>
<line x1="392.50" y1="313.80" x2="392.50" y2="331.60" stroke="#2a2a2a" stroke-width="1.0"/>
<line x1="406.70" y1="301.90" x2="406.70" y2="322.00" stroke="#2a2a2a" stroke-width="1.0"/>
<line x1="427.70" y1="328.80" x2="427.70" y2="350.40" stroke="#2a2a2a" stroke-width="1.0"/>
<line x1="434.50" y1="322.60" x2="434.50" y2="330.00" stroke="#2a2a2a" stroke-width="1.0"/>
<line x1="441.50" y1="326.80" x2="441.50" y2="340.20" stroke="#2a2a2a" stroke-width="1.0"/>
<line x1="448.30" y1="318.90" x2="448.30" y2="341.70" stroke="#2a2a2a" stroke-width="1.0"/>
<line x1="455.60" y1="336.30" x2="455.60" y2="352.10" stroke="#2a2a2a" stroke-width="1.0"/>
<line x1="462.40" y1="321.90" x2="462.40" y2="334.90" stroke="#2a2a2a" stroke-width="1.0"/>
<line x1="469.60" y1="318.70" x2="469.60" y2="330.30" stroke="#2a2a2a" stroke-width="1.0"/>
<line x1="476.60" y1="309.00" x2="476.60" y2="347.80" stroke="#2a2a2a" stroke-width="1.0"/>
<line x1="490.60" y1="324.40" x2="490.60" y2="332.00" stroke="#2a2a2a" stroke-width="1.0"/>
<line x1="499.60" y1="385.60" x2="499.60" y2="400.20" stroke="#2a2a2a" stroke-width="1.0"/>
<line x1="505.70" y1="377.50" x2="505.70" y2="403.50" stroke="#2a2a2a" stroke-width="1.0"/>
<line x1="521.10" y1="373.40" x2="521.10" y2="397.80" stroke="#2a2a2a" stroke-width="1.0"/>
<line x1="528.00" y1="354.00" x2="528.00" y2="385.80" stroke="#2a2a2a" stroke-width="1.0"/>
<line x1="541.70" y1="356.50" x2="541.70" y2="391.10" stroke="#2a2a2a" stroke-width="1.0"/>
<line x1="548.70" y1="358.90" x2="548.70" y2="379.20" stroke="#2a2a2a" stroke-width="1.0"/>
<line x1="562.50" y1="347.60" x2="562.50" y2="366.20" stroke="#2a2a2a" stroke-width="1.0"/>
<line x1="569.30" y1="345.90" x2="569.30" y2="361.70" stroke="#2a2a2a" stroke-width="1.0"/>
<line x1="576.60" y1="340.30" x2="576.60" y2="359.90" stroke="#2a2a2a" stroke-width="1.0"/>
<line x1="590.70" y1="336.70" x2="590.70" y2="352.90" stroke="#2a2a2a" stroke-width="1.0"/>
<line x1="597.40" y1="327.80" x2="597.40" y2="340.00" stroke="#2a2a2a" stroke-width="1.0"/>
<line x1="604.20" y1="333.20" x2="604.20" y2="342.80" stroke="#2a2a2a" stroke-width="1.0"/>
<line x1="618.30" y1="342.10" x2="618.30" y2="363.50" stroke="#2a2a2a" stroke-width="1.0"/>
<line x1="627.40" y1="333.20" x2="627.40" y2="348.20" stroke="#2a2a2a" stroke-width="1.0"/>
<line x1="634.50" y1="342.10" x2="634.50" y2="354.50" stroke="#2a2a2a" stroke-width="1.0"/>
<line x1="648.10" y1="329.60" x2="648.10" y2="343.20" stroke="#2a2a2a" stroke-width="1.0"/>
<line x1="655.00" y1="333.20" x2="655.00" y2="354.60" stroke="#2a2a2a" stroke-width="1.0"/>
<path d="M385.10,348.20 L392.16,322.70 L399.22,335.20 L406.28,311.80 L413.34,326.50 L420.40,335.20 L427.46,339.60 L434.52,326.30 L441.58,333.50 L448.64,330.30 L455.70,344.20 L462.76,328.40 L469.82,324.50 L476.88,328.40 L483.94,333.60 L491.00,328.20 L493.50,358.29 M495.90,348.36 L499.60,392.90 L505.90,390.50 L512.20,386.50 L514.50,386.13 M516.90,386.28 L521.10,385.60 L528.00,369.90 L534.90,369.40 L541.80,373.80 L548.70,371.10 L555.60,373.80 L562.50,356.90 L569.40,353.80 L576.30,350.10 L583.20,338.20 L590.10,344.80 L597.00,334.40 L603.90,338.00 L610.80,345.30 L617.70,352.80 L621.10,346.01 M623.50,348.48 L627.40,340.70 L634.30,348.30 L641.20,343.90 L648.10,336.40 L655.00,343.90" fill="none" stroke="#000" stroke-width="1.2" stroke-linejoin="round"/>
<circle cx="385.10" cy="348.20" r="2.4" fill="#fff" stroke="#000" stroke-width="1"/>
<circle cx="392.16" cy="322.70" r="2.4" fill="#fff" stroke="#000" stroke-width="1"/>
<circle cx="399.22" cy="335.20" r="2.4" fill="#fff" stroke="#000" stroke-width="1"/>
<circle cx="406.28" cy="311.80" r="2.4" fill="#fff" stroke="#000" stroke-width="1"/>
<circle cx="413.34" cy="326.50" r="2.4" fill="#fff" stroke="#000" stroke-width="1"/>
<circle cx="420.40" cy="335.20" r="2.4" fill="#fff" stroke="#000" stroke-width="1"/>
<circle cx="427.46" cy="339.60" r="2.4" fill="#fff" stroke="#000" stroke-width="1"/>
<circle cx="434.52" cy="326.30" r="2.4" fill="#fff" stroke="#000" stroke-width="1"/>
<circle cx="441.58" cy="333.50" r="2.4" fill="#fff" stroke="#000" stroke-width="1"/>
<circle cx="448.64" cy="330.30" r="2.4" fill="#fff" stroke="#000" stroke-width="1"/>
<circle cx="455.70" cy="344.20" r="2.4" fill="#fff" stroke="#000" stroke-width="1"/>
<circle cx="462.76" cy="328.40" r="2.4" fill="#fff" stroke="#000" stroke-width="1"/>
<circle cx="469.82" cy="324.50" r="2.4" fill="#fff" stroke="#000" stroke-width="1"/>
<circle cx="476.88" cy="328.40" r="2.4" fill="#fff" stroke="#000" stroke-width="1"/>
<circle cx="483.94" cy="333.60" r="2.4" fill="#fff" stroke="#000" stroke-width="1"/>
<circle cx="491.00" cy="328.20" r="2.4" fill="#fff" stroke="#000" stroke-width="1"/>
<circle cx="499.60" cy="392.90" r="2.4" fill="#fff" stroke="#000" stroke-width="1"/>
<circle cx="505.90" cy="390.50" r="2.4" fill="#fff" stroke="#000" stroke-width="1"/>
<circle cx="512.20" cy="386.50" r="2.4" fill="#fff" stroke="#000" stroke-width="1"/>
<circle cx="521.10" cy="385.60" r="2.4" fill="#fff" stroke="#000" stroke-width="1"/>
<circle cx="528.00" cy="369.90" r="2.4" fill="#fff" stroke="#000" stroke-width="1"/>
<circle cx="534.90" cy="369.40" r="2.4" fill="#fff" stroke="#000" stroke-width="1"/>
<circle cx="541.80" cy="373.80" r="2.4" fill="#fff" stroke="#000" stroke-width="1"/>
<circle cx="548.70" cy="371.10" r="2.4" fill="#fff" stroke="#000" stroke-width="1"/>
<circle cx="555.60" cy="373.80" r="2.4" fill="#fff" stroke="#000" stroke-width="1"/>
<circle cx="562.50" cy="356.90" r="2.4" fill="#fff" stroke="#000" stroke-width="1"/>
<circle cx="569.40" cy="353.80" r="2.4" fill="#fff" stroke="#000" stroke-width="1"/>
<circle cx="576.30" cy="350.10" r="2.4" fill="#fff" stroke="#000" stroke-width="1"/>
<circle cx="583.20" cy="338.20" r="2.4" fill="#fff" stroke="#000" stroke-width="1"/>
<circle cx="590.10" cy="344.80" r="2.4" fill="#fff" stroke="#000" stroke-width="1"/>
<circle cx="597.00" cy="334.40" r="2.4" fill="#fff" stroke="#000" stroke-width="1"/>
<circle cx="603.90" cy="338.00" r="2.4" fill="#fff" stroke="#000" stroke-width="1"/>
<circle cx="610.80" cy="345.30" r="2.4" fill="#fff" stroke="#000" stroke-width="1"/>
<circle cx="617.70" cy="352.80" r="2.4" fill="#fff" stroke="#000" stroke-width="1"/>
<circle cx="627.40" cy="340.70" r="2.4" fill="#fff" stroke="#000" stroke-width="1"/>
<circle cx="634.30" cy="348.30" r="2.4" fill="#fff" stroke="#000" stroke-width="1"/>
<circle cx="641.20" cy="343.90" r="2.4" fill="#fff" stroke="#000" stroke-width="1"/>
<circle cx="648.10" cy="336.40" r="2.4" fill="#fff" stroke="#000" stroke-width="1"/>
<circle cx="655.00" cy="343.90" r="2.4" fill="#fff" stroke="#000" stroke-width="1"/>
<line x1="385.40" y1="326.90" x2="385.40" y2="345.70" stroke="#2a2a2a" stroke-width="1.0"/>
<line x1="392.50" y1="321.20" x2="392.50" y2="336.00" stroke="#2a2a2a" stroke-width="1.0"/>
<line x1="399.50" y1="327.50" x2="399.50" y2="338.20" stroke="#2a2a2a" stroke-width="1.0"/>
<line x1="406.70" y1="324.60" x2="406.70" y2="352.50" stroke="#2a2a2a" stroke-width="1.0"/>
<line x1="413.70" y1="336.00" x2="413.70" y2="352.50" stroke="#2a2a2a" stroke-width="1.0"/>
<line x1="420.50" y1="316.10" x2="420.50" y2="333.00" stroke="#2a2a2a" stroke-width="1.0"/>
<line x1="427.70" y1="318.90" x2="427.70" y2="340.10" stroke="#2a2a2a" stroke-width="1.0"/>
<line x1="434.50" y1="316.30" x2="434.50" y2="324.30" stroke="#2a2a2a" stroke-width="1.0"/>
<line x1="441.50" y1="319.10" x2="441.50" y2="333.50" stroke="#2a2a2a" stroke-width="1.0"/>
<line x1="448.30" y1="320.30" x2="448.30" y2="353.30" stroke="#2a2a2a" stroke-width="1.0"/>
<line x1="455.60" y1="323.20" x2="455.60" y2="340.00" stroke="#2a2a2a" stroke-width="1.0"/>
<line x1="462.40" y1="331.80" x2="462.40" y2="338.00" stroke="#2a2a2a" stroke-width="1.0"/>
<line x1="469.60" y1="295.70" x2="469.60" y2="326.10" stroke="#2a2a2a" stroke-width="1.0"/>
<line x1="476.60" y1="297.20" x2="476.60" y2="348.60" stroke="#2a2a2a" stroke-width="1.0"/>
<line x1="483.70" y1="312.80" x2="483.70" y2="326.00" stroke="#2a2a2a" stroke-width="1.0"/>
<line x1="490.60" y1="307.00" x2="490.60" y2="334.00" stroke="#2a2a2a" stroke-width="1.0"/>
<line x1="499.60" y1="362.50" x2="499.60" y2="400.70" stroke="#2a2a2a" stroke-width="1.0"/>
<line x1="505.70" y1="361.80" x2="505.70" y2="403.00" stroke="#2a2a2a" stroke-width="1.0"/>
<line x1="512.20" y1="370.20" x2="512.20" y2="407.50" stroke="#2a2a2a" stroke-width="1.0"/>
<line x1="521.10" y1="343.50" x2="521.10" y2="385.70" stroke="#2a2a2a" stroke-width="1.0"/>
<line x1="528.00" y1="354.00" x2="528.00" y2="401.00" stroke="#2a2a2a" stroke-width="1.0"/>
<line x1="534.90" y1="356.50" x2="534.90" y2="383.20" stroke="#2a2a2a" stroke-width="1.0"/>
<line x1="541.70" y1="356.40" x2="541.70" y2="410.00" stroke="#2a2a2a" stroke-width="1.0"/>
<line x1="555.50" y1="355.30" x2="555.50" y2="385.60" stroke="#2a2a2a" stroke-width="1.0"/>
<line x1="562.50" y1="358.00" x2="562.50" y2="395.40" stroke="#2a2a2a" stroke-width="1.0"/>
<line x1="569.30" y1="357.30" x2="569.30" y2="375.10" stroke="#2a2a2a" stroke-width="1.0"/>
<line x1="576.60" y1="362.70" x2="576.60" y2="387.50" stroke="#2a2a2a" stroke-width="1.0"/>
<line x1="583.70" y1="347.40" x2="583.70" y2="400.90" stroke="#2a2a2a" stroke-width="1.0"/>
<line x1="590.70" y1="354.80" x2="590.70" y2="425.60" stroke="#2a2a2a" stroke-width="1.0"/>
<line x1="597.40" y1="380.40" x2="597.40" y2="404.50" stroke="#2a2a2a" stroke-width="1.0"/>
<line x1="604.20" y1="379.90" x2="604.20" y2="418.30" stroke="#2a2a2a" stroke-width="1.0"/>
<line x1="611.30" y1="343.90" x2="611.30" y2="388.40" stroke="#2a2a2a" stroke-width="1.0"/>
<line x1="618.30" y1="374.10" x2="618.30" y2="400.90" stroke="#2a2a2a" stroke-width="1.0"/>
<line x1="627.40" y1="382.20" x2="627.40" y2="403.60" stroke="#2a2a2a" stroke-width="1.0"/>
<line x1="634.50" y1="371.60" x2="634.50" y2="425.60" stroke="#2a2a2a" stroke-width="1.0"/>
<line x1="641.10" y1="377.70" x2="641.10" y2="421.50" stroke="#2a2a2a" stroke-width="1.0"/>
<line x1="648.10" y1="359.00" x2="648.10" y2="402.80" stroke="#2a2a2a" stroke-width="1.0"/>
<line x1="655.00" y1="351.60" x2="655.00" y2="402.80" stroke="#2a2a2a" stroke-width="1.0"/>
<path d="M385.10,336.30 L392.16,328.60 L399.22,332.60 L406.28,339.00 L413.34,344.50 L420.40,324.30 L427.46,329.50 L434.52,320.30 L441.58,326.30 L448.64,336.80 L455.70,331.60 L462.76,334.90 L469.82,310.90 L476.88,322.90 L483.94,319.30 L491.00,320.50 L493.50,348.92 M495.90,339.54 L499.60,381.60 L505.90,382.40 L512.20,389.40 L514.50,379.15 M516.90,383.33 L521.10,364.60 L528.00,377.50 L534.90,369.40 L541.80,383.20 L548.70,361.30 L555.60,370.20 L562.50,376.70 L569.40,366.20 L576.30,375.10 L583.20,374.50 L590.10,390.20 L597.00,392.40 L603.90,399.10 L610.80,377.40 L617.70,387.50 L621.10,390.53 M623.50,389.43 L627.40,392.90 L634.30,398.60 L641.20,400.00 L648.10,380.90 L655.00,377.20" fill="none" stroke="#000" stroke-width="1.2" stroke-linejoin="round"/>
<circle cx="385.10" cy="336.30" r="2.4" fill="#000" stroke="#000" stroke-width="1"/>
<circle cx="392.16" cy="328.60" r="2.4" fill="#000" stroke="#000" stroke-width="1"/>
<circle cx="399.22" cy="332.60" r="2.4" fill="#000" stroke="#000" stroke-width="1"/>
<circle cx="406.28" cy="339.00" r="2.4" fill="#000" stroke="#000" stroke-width="1"/>
<circle cx="413.34" cy="344.50" r="2.4" fill="#000" stroke="#000" stroke-width="1"/>
<circle cx="420.40" cy="324.30" r="2.4" fill="#000" stroke="#000" stroke-width="1"/>
<circle cx="427.46" cy="329.50" r="2.4" fill="#000" stroke="#000" stroke-width="1"/>
<circle cx="434.52" cy="320.30" r="2.4" fill="#000" stroke="#000" stroke-width="1"/>
<circle cx="441.58" cy="326.30" r="2.4" fill="#000" stroke="#000" stroke-width="1"/>
<circle cx="448.64" cy="336.80" r="2.4" fill="#000" stroke="#000" stroke-width="1"/>
<circle cx="455.70" cy="331.60" r="2.4" fill="#000" stroke="#000" stroke-width="1"/>
<circle cx="462.76" cy="334.90" r="2.4" fill="#000" stroke="#000" stroke-width="1"/>
<circle cx="469.82" cy="310.90" r="2.4" fill="#000" stroke="#000" stroke-width="1"/>
<circle cx="476.88" cy="322.90" r="2.4" fill="#000" stroke="#000" stroke-width="1"/>
<circle cx="483.94" cy="319.30" r="2.4" fill="#000" stroke="#000" stroke-width="1"/>
<circle cx="491.00" cy="320.50" r="2.4" fill="#000" stroke="#000" stroke-width="1"/>
<circle cx="499.60" cy="381.60" r="2.4" fill="#000" stroke="#000" stroke-width="1"/>
<circle cx="505.90" cy="382.40" r="2.4" fill="#000" stroke="#000" stroke-width="1"/>
<circle cx="512.20" cy="389.40" r="2.4" fill="#000" stroke="#000" stroke-width="1"/>
<circle cx="521.10" cy="364.60" r="2.4" fill="#000" stroke="#000" stroke-width="1"/>
<circle cx="528.00" cy="377.50" r="2.4" fill="#000" stroke="#000" stroke-width="1"/>
<circle cx="534.90" cy="369.40" r="2.4" fill="#000" stroke="#000" stroke-width="1"/>
<circle cx="541.80" cy="383.20" r="2.4" fill="#000" stroke="#000" stroke-width="1"/>
<circle cx="548.70" cy="361.30" r="2.4" fill="#000" stroke="#000" stroke-width="1"/>
<circle cx="555.60" cy="370.20" r="2.4" fill="#000" stroke="#000" stroke-width="1"/>
<circle cx="562.50" cy="376.70" r="2.4" fill="#000" stroke="#000" stroke-width="1"/>
<circle cx="569.40" cy="366.20" r="2.4" fill="#000" stroke="#000" stroke-width="1"/>
<circle cx="576.30" cy="375.10" r="2.4" fill="#000" stroke="#000" stroke-width="1"/>
<circle cx="583.20" cy="374.50" r="2.4" fill="#000" stroke="#000" stroke-width="1"/>
<circle cx="590.10" cy="390.20" r="2.4" fill="#000" stroke="#000" stroke-width="1"/>
<circle cx="597.00" cy="392.40" r="2.4" fill="#000" stroke="#000" stroke-width="1"/>
<circle cx="603.90" cy="399.10" r="2.4" fill="#000" stroke="#000" stroke-width="1"/>
<circle cx="610.80" cy="377.40" r="2.4" fill="#000" stroke="#000" stroke-width="1"/>
<circle cx="617.70" cy="387.50" r="2.4" fill="#000" stroke="#000" stroke-width="1"/>
<circle cx="627.40" cy="392.90" r="2.4" fill="#000" stroke="#000" stroke-width="1"/>
<circle cx="634.30" cy="398.60" r="2.4" fill="#000" stroke="#000" stroke-width="1"/>
<circle cx="641.20" cy="400.00" r="2.4" fill="#000" stroke="#000" stroke-width="1"/>
<circle cx="648.10" cy="380.90" r="2.4" fill="#000" stroke="#000" stroke-width="1"/>
<circle cx="655.00" cy="377.20" r="2.4" fill="#000" stroke="#000" stroke-width="1"/>
<text x="488.6" y="279.3" font-size="10.5" text-anchor="start" font-weight="normal" >LFS</text>
<line x1="497.10" y1="284.90" x2="497.10" y2="299.10" stroke="#000" stroke-width="1.3"/>
<path d="M495.10,298.60 L499.10,298.60 L497.10,303.10 Z" fill="#000"/>
<text x="404.6" y="384.4" font-size="10.5" text-anchor="start" font-weight="normal" >Injection</text>
<line x1="424.30" y1="373.70" x2="424.30" y2="359.40" stroke="#000" stroke-width="1.3"/>
<path d="M422.30,359.90 L426.30,359.90 L424.30,355.40 Z" fill="#000"/>
<circle cx="595.0" cy="426.9" r="2.8" fill="#000"/>
<text x="599.9" y="430.4" font-size="10.0" text-anchor="start" font-weight="normal" >Vehicle</text>
<circle cx="595.0" cy="437.8" r="2.3" fill="#fff" stroke="#000" stroke-width="1"/>
<text x="599.9" y="441.3" font-size="10.0" text-anchor="start" font-weight="normal" >DRB</text>
<text x="505.5" y="476.8" font-size="10.2" text-anchor="middle" font-weight="normal" >Time (min)</text>
<text x="7.2" y="496.8" font-size="10.5" text-anchor="start" font-weight="bold" >E</text>
<text x="343.9" y="495.8" font-size="10.5" text-anchor="start" font-weight="bold" >F</text>
<text x="52.5" y="496.9" font-size="10.4" text-anchor="middle" font-weight="bold" >(i)</text>
<text x="85.5" y="496.9" font-size="10.4" text-anchor="middle" font-weight="bold" >(ii)</text>
<text x="121.0" y="496.9" font-size="10.4" text-anchor="middle" font-weight="bold" >(iii)</text>
<text x="232.4" y="496.9" font-size="10.4" text-anchor="middle" font-weight="bold" >(i)</text>
<text x="267.9" y="496.9" font-size="10.4" text-anchor="middle" font-weight="bold" >(ii)</text>
<text x="303.7" y="496.9" font-size="10.4" text-anchor="middle" font-weight="bold" >(iii)</text>
<text x="392.4" y="496.9" font-size="10.4" text-anchor="middle" font-weight="bold" >(i)</text>
<text x="425.0" y="496.9" font-size="10.4" text-anchor="middle" font-weight="bold" >(ii)</text>
<text x="460.6" y="496.9" font-size="10.4" text-anchor="middle" font-weight="bold" >(iii)</text>
<text x="572.0" y="496.9" font-size="10.4" text-anchor="middle" font-weight="bold" >(i)</text>
<text x="607.8" y="496.9" font-size="10.4" text-anchor="middle" font-weight="bold" >(ii)</text>
<text x="643.5" y="496.9" font-size="10.4" text-anchor="middle" font-weight="bold" >(iii)</text>
<line x1="45.20" y1="508.40" x2="45.20" y2="529.10" stroke="#444" stroke-width="1.1"/>
<line x1="43.40" y1="513.60" x2="45.20" y2="513.60" stroke="#2a2a2a" stroke-width="1.0"/>
<path d="M45.20,513.20 Q46.80,511.50 48.40,512.30 C50.39,512.30 51.53,522.00 54.10,522.00 C58.66,522.00 60.94,515.33 69.30,513.10" fill="none" stroke="#2a2a2a" stroke-width="1.15" stroke-linecap="round" stroke-linejoin="round"/>
<line x1="79.80" y1="504.20" x2="79.80" y2="525.10" stroke="#444" stroke-width="1.1"/>
<line x1="78.00" y1="510.50" x2="79.80" y2="510.50" stroke="#2a2a2a" stroke-width="1.0"/>
<path d="M79.80,509.80 Q81.20,509.40 82.60,510.20 C86.17,510.20 88.21,526.40 92.80,526.40 C96.10,526.40 97.75,518.00 103.80,515.20" fill="none" stroke="#2a2a2a" stroke-width="1.15" stroke-linecap="round" stroke-linejoin="round"/>
<line x1="114.40" y1="506.50" x2="114.40" y2="522.70" stroke="#444" stroke-width="1.1"/>
<line x1="112.60" y1="512.30" x2="114.40" y2="512.30" stroke="#2a2a2a" stroke-width="1.0"/>
<path d="M114.40,512.00 Q115.80,512.00 117.20,512.80 C120.31,512.80 122.09,527.60 126.10,527.60 C129.70,527.60 131.50,516.88 138.10,513.30" fill="none" stroke="#2a2a2a" stroke-width="1.15" stroke-linecap="round" stroke-linejoin="round"/>
<path d="M132.60,526.30 L132.60,538.80 L139.70,538.80" fill="none" stroke="#222" stroke-width="1.1" stroke-linecap="round" stroke-linejoin="round"/>
<line x1="46.80" y1="552.80" x2="46.80" y2="593.70" stroke="#666" stroke-width="1.2"/>
<line x1="45.00" y1="555.30" x2="46.80" y2="555.30" stroke="#2a2a2a" stroke-width="1.0"/>
<path d="M46.80,555.30 Q48.10,555.50 49.40,556.30 C51.53,556.30 52.76,564.40 55.50,564.40 C60.12,564.40 62.43,554.57 70.90,551.30" fill="none" stroke="#2a2a2a" stroke-width="1.15" stroke-linecap="round" stroke-linejoin="round"/>
<line x1="81.60" y1="552.10" x2="81.60" y2="596.80" stroke="#666" stroke-width="1.2"/>
<line x1="79.80" y1="556.70" x2="81.60" y2="556.70" stroke="#2a2a2a" stroke-width="1.0"/>
<path d="M81.60,556.00 Q83.05,554.70 84.50,555.50 C86.50,555.50 87.64,567.20 90.20,567.20 C94.91,567.20 97.27,558.80 105.90,556.00" fill="none" stroke="#2a2a2a" stroke-width="1.15" stroke-linecap="round" stroke-linejoin="round"/>
<line x1="116.70" y1="552.80" x2="116.70" y2="597.50" stroke="#666" stroke-width="1.2"/>
<line x1="114.90" y1="556.50" x2="116.70" y2="556.50" stroke="#2a2a2a" stroke-width="1.0"/>
<path d="M116.70,556.30 Q117.95,556.00 119.20,556.80 C121.72,556.80 123.16,566.40 126.40,566.40 C130.63,566.40 132.75,559.12 140.50,556.70" fill="none" stroke="#2a2a2a" stroke-width="1.15" stroke-linecap="round" stroke-linejoin="round"/>
<path d="M134.60,570.80 L134.60,583.40 L141.90,583.40" fill="none" stroke="#222" stroke-width="1.1" stroke-linecap="round" stroke-linejoin="round"/>
<line x1="226.50" y1="495.90" x2="226.50" y2="554.20" stroke="#666" stroke-width="1.2"/>
<line x1="224.70" y1="511.20" x2="226.50" y2="511.20" stroke="#2a2a2a" stroke-width="1.0"/>
<path d="M226.90,535.00 C227.10,516.60 226.80,508.60 228.40,508.60 C230.88,508.60 232.31,533.30 235.50,533.30 C239.76,533.30 241.89,518.00 249.70,512.90" fill="none" stroke="#2a2a2a" stroke-width="1.15" stroke-linecap="round" stroke-linejoin="round"/>
<line x1="260.30" y1="500.20" x2="260.30" y2="544.60" stroke="#444" stroke-width="1.2"/>
<line x1="258.50" y1="512.30" x2="260.30" y2="512.30" stroke="#2a2a2a" stroke-width="1.0"/>
<path d="M260.60,543.00 C260.80,521.50 262.20,513.50 263.80,513.50 C266.22,513.50 267.60,528.80 270.70,528.80 C274.96,528.80 277.09,517.70 284.90,514.00" fill="none" stroke="#2a2a2a" stroke-width="1.15" stroke-linecap="round" stroke-linejoin="round"/>
<line x1="295.10" y1="501.60" x2="295.10" y2="555.30" stroke="#444" stroke-width="1.2"/>
<line x1="293.30" y1="513.50" x2="295.10" y2="513.50" stroke="#2a2a2a" stroke-width="1.0"/>
<path d="M295.40,545.00 C295.60,520.30 296.30,512.30 297.90,512.30 C300.28,512.30 301.64,528.20 304.70,528.20 C308.96,528.20 311.09,516.27 318.90,512.30" fill="none" stroke="#2a2a2a" stroke-width="1.15" stroke-linecap="round" stroke-linejoin="round"/>
<path d="M313.20,524.30 L313.20,536.20 L320.60,536.20" fill="none" stroke="#222" stroke-width="1.1" stroke-linecap="round" stroke-linejoin="round"/>
<path d="M224.90,559.30 L224.90,566.20 Q224.90,567.20 223.30,567.20" fill="none" stroke="#333" stroke-width="1.0" stroke-linecap="round" stroke-linejoin="round"/>
<path d="M225.40,593.30 C225.60,574.70 227.00,566.70 228.60,566.70 C230.98,566.70 232.34,582.00 235.40,582.00 C239.66,582.00 241.79,570.53 249.60,566.70" fill="none" stroke="#2a2a2a" stroke-width="1.15" stroke-linecap="round" stroke-linejoin="round"/>
<path d="M260.80,558.20 L260.80,564.50 Q260.80,565.50 259.20,565.50" fill="none" stroke="#333" stroke-width="1.0" stroke-linecap="round" stroke-linejoin="round"/>
<path d="M261.00,594.50 C261.20,571.30 262.80,563.30 264.40,563.30 C266.99,563.30 268.47,586.50 271.80,586.50 C275.85,586.50 277.88,572.03 285.30,567.20" fill="none" stroke="#2a2a2a" stroke-width="1.15" stroke-linecap="round" stroke-linejoin="round"/>
<path d="M296.40,557.00 L296.40,564.50 Q296.40,565.50 294.80,565.50" fill="none" stroke="#333" stroke-width="1.0" stroke-linecap="round" stroke-linejoin="round"/>
<path d="M297.00,601.90 C297.20,571.30 298.10,563.30 299.70,563.30 C302.81,563.30 304.60,586.00 308.60,586.00 C312.50,586.00 314.45,573.62 321.60,569.50" fill="none" stroke="#2a2a2a" stroke-width="1.15" stroke-linecap="round" stroke-linejoin="round"/>
<path d="M315.40,580.90 L315.40,593.30 L322.80,593.30" fill="none" stroke="#222" stroke-width="1.1" stroke-linecap="round" stroke-linejoin="round"/>
<line x1="385.00" y1="502.10" x2="385.00" y2="552.00" stroke="#555" stroke-width="1.2"/>
<line x1="383.20" y1="513.50" x2="385.00" y2="513.50" stroke="#2a2a2a" stroke-width="1.0"/>
<path d="M385.80,525.00 C386.00,520.30 385.60,512.30 387.20,512.30 C389.23,512.30 390.39,531.40 393.00,531.40 C397.68,531.40 400.02,517.98 408.60,513.50" fill="none" stroke="#2a2a2a" stroke-width="1.15" stroke-linecap="round" stroke-linejoin="round"/>
<line x1="420.30" y1="509.30" x2="420.30" y2="553.20" stroke="#555" stroke-width="1.2"/>
<line x1="418.50" y1="510.50" x2="420.30" y2="510.50" stroke="#2a2a2a" stroke-width="1.0"/>
<path d="M420.90,518.00 C421.10,517.30 420.70,509.30 422.30,509.30 C424.61,509.30 425.93,531.20 428.90,531.20 C433.22,531.20 435.38,515.98 443.30,510.90" fill="none" stroke="#2a2a2a" stroke-width="1.15" stroke-linecap="round" stroke-linejoin="round"/>
<line x1="454.50" y1="505.70" x2="454.50" y2="549.70" stroke="#555" stroke-width="1.2"/>
<line x1="452.70" y1="507.50" x2="454.50" y2="507.50" stroke="#2a2a2a" stroke-width="1.0"/>
<path d="M455.00,515.00 C455.20,513.70 454.40,505.70 456.00,505.70 C458.24,505.70 459.52,526.10 462.40,526.10 C467.08,526.10 469.42,510.35 478.00,505.10" fill="none" stroke="#2a2a2a" stroke-width="1.15" stroke-linecap="round" stroke-linejoin="round"/>
<path d="M472.00,528.40 L472.00,540.40 L479.40,540.40" fill="none" stroke="#222" stroke-width="1.1" stroke-linecap="round" stroke-linejoin="round"/>
<line x1="385.10" y1="565.10" x2="385.10" y2="612.30" stroke="#555" stroke-width="1.2"/>
<line x1="383.30" y1="566.00" x2="385.10" y2="566.00" stroke="#2a2a2a" stroke-width="1.0"/>
<path d="M385.70,585.00 C385.90,572.90 386.10,564.90 387.70,564.90 C389.45,564.90 390.45,579.50 392.70,579.50 C397.74,579.50 400.26,568.25 409.50,564.50" fill="none" stroke="#2a2a2a" stroke-width="1.15" stroke-linecap="round" stroke-linejoin="round"/>
<line x1="420.20" y1="555.50" x2="420.20" y2="611.90" stroke="#555" stroke-width="1.2"/>
<line x1="418.40" y1="565.40" x2="420.20" y2="565.40" stroke="#2a2a2a" stroke-width="1.0"/>
<path d="M420.70,575.00 C420.90,572.50 420.60,564.50 422.20,564.50 C424.86,564.50 426.38,583.10 429.80,583.10 C434.30,583.10 436.55,571.40 444.80,567.50" fill="none" stroke="#2a2a2a" stroke-width="1.15" stroke-linecap="round" stroke-linejoin="round"/>
<line x1="455.50" y1="556.50" x2="455.50" y2="613.20" stroke="#555" stroke-width="1.2"/>
<line x1="453.70" y1="567.70" x2="455.50" y2="567.70" stroke="#2a2a2a" stroke-width="1.0"/>
<path d="M456.00,576.00 C456.20,574.10 455.90,566.10 457.50,566.10 C459.53,566.10 460.69,581.60 463.30,581.60 C468.28,581.60 470.77,570.12 479.90,566.30" fill="none" stroke="#2a2a2a" stroke-width="1.15" stroke-linecap="round" stroke-linejoin="round"/>
<path d="M474.00,579.40 L474.00,592.50 L481.60,592.50" fill="none" stroke="#222" stroke-width="1.1" stroke-linecap="round" stroke-linejoin="round"/>
<line x1="565.40" y1="507.80" x2="568.00" y2="507.80" stroke="#2a2a2a" stroke-width="1.0"/>
<path d="M567.50,539.00 C567.70,514.30 569.30,506.30 570.90,506.30 C572.89,506.30 574.03,530.00 576.60,530.00 C581.01,530.00 583.22,515.30 591.30,510.40" fill="none" stroke="#2a2a2a" stroke-width="1.15" stroke-linecap="round" stroke-linejoin="round"/>
<line x1="600.60" y1="508.40" x2="603.20" y2="508.40" stroke="#2a2a2a" stroke-width="1.0"/>
<path d="M602.40,544.10 C602.60,518.40 603.90,510.40 605.50,510.40 C607.32,510.40 608.36,529.40 610.70,529.40 C615.11,529.40 617.32,514.02 625.40,508.90" fill="none" stroke="#2a2a2a" stroke-width="1.15" stroke-linecap="round" stroke-linejoin="round"/>
<line x1="634.90" y1="510.10" x2="637.30" y2="510.10" stroke="#2a2a2a" stroke-width="1.0"/>
<path d="M636.80,539.00 C637.00,515.80 638.00,507.80 639.60,507.80 C641.60,507.80 642.74,525.40 645.30,525.40 C649.89,525.40 652.18,511.07 660.60,506.30" fill="none" stroke="#2a2a2a" stroke-width="1.15" stroke-linecap="round" stroke-linejoin="round"/>
<path d="M654.40,522.60 L654.40,534.50 L661.50,534.50" fill="none" stroke="#222" stroke-width="1.1" stroke-linecap="round" stroke-linejoin="round"/>
<line x1="566.70" y1="554.20" x2="566.70" y2="605.80" stroke="#444" stroke-width="1.3"/>
<line x1="564.90" y1="561.30" x2="566.70" y2="561.30" stroke="#2a2a2a" stroke-width="1.0"/>
<path d="M567.20,594.00 C567.40,568.20 568.20,560.20 569.80,560.20 C571.69,560.20 572.77,579.50 575.20,579.50 C577.81,579.50 579.55,571.60 583.90,570.60 C587.10,569.60 588.70,564.00 591.90,562.50" fill="none" stroke="#2a2a2a" stroke-width="1.15" stroke-linecap="round" stroke-linejoin="round"/>
<line x1="603.20" y1="558.20" x2="603.20" y2="600.70" stroke="#444" stroke-width="1.3"/>
<line x1="601.40" y1="564.10" x2="603.20" y2="564.10" stroke="#2a2a2a" stroke-width="1.0"/>
<path d="M603.60,592.00 C603.80,571.80 604.40,563.80 606.00,563.80 C607.64,563.80 608.59,577.30 610.70,577.30 C615.98,577.30 618.62,564.85 628.30,560.70" fill="none" stroke="#2a2a2a" stroke-width="1.15" stroke-linecap="round" stroke-linejoin="round"/>
<line x1="638.80" y1="556.80" x2="638.80" y2="593.30" stroke="#444" stroke-width="1.3"/>
<line x1="637.00" y1="563.30" x2="638.80" y2="563.30" stroke="#2a2a2a" stroke-width="1.0"/>
<path d="M639.20,588.00 C639.40,569.60 639.70,561.60 641.30,561.60 C643.37,561.60 644.54,581.40 647.20,581.40 C652.24,581.40 654.76,565.88 664.00,560.70" fill="none" stroke="#2a2a2a" stroke-width="1.15" stroke-linecap="round" stroke-linejoin="round"/>
<path d="M657.80,576.50 L657.80,589.40 L665.70,589.40" fill="none" stroke="#222" stroke-width="1.1" stroke-linecap="round" stroke-linejoin="round"/>
</svg></body></html>
